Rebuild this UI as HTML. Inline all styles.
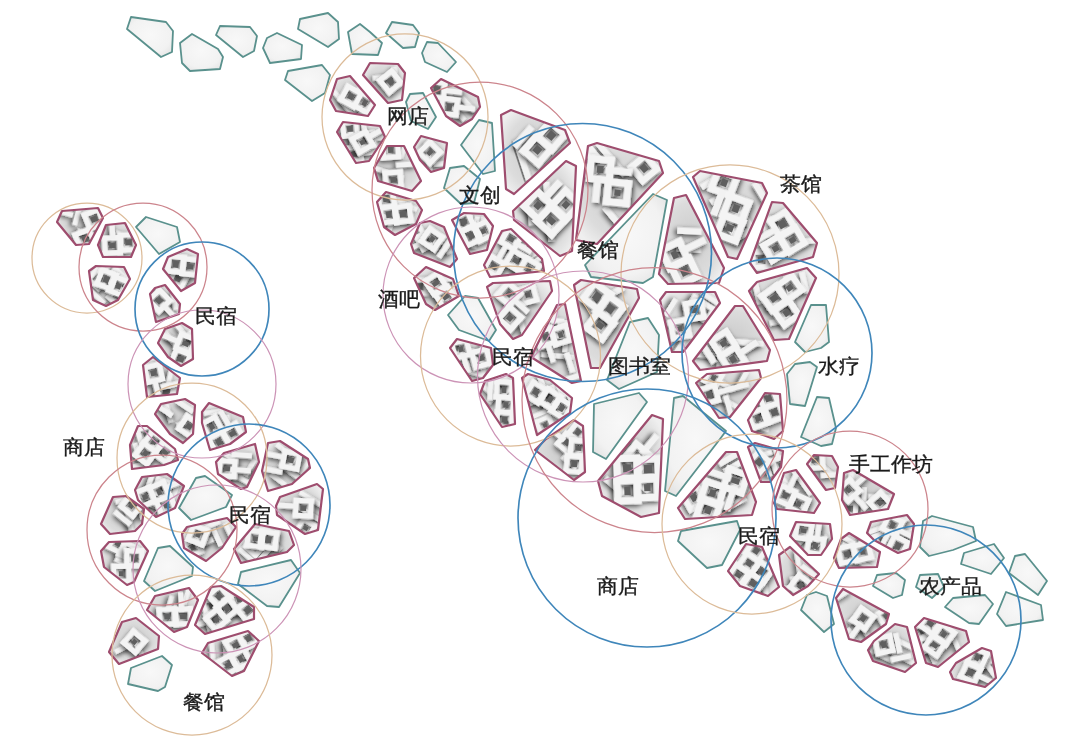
<!DOCTYPE html>
<html><head><meta charset="utf-8"><style>
html,body{margin:0;padding:0;background:#fff;}
#w{position:relative;width:1080px;height:746px;overflow:hidden;background:#fff;filter:blur(0.45px);}
svg{position:absolute;left:0;top:0;}
.l{position:absolute;font-family:"Liberation Sans",sans-serif;font-size:19.8px;line-height:20px;transform:scaleX(1.045);transform-origin:0 0;color:#1a1a1a;-webkit-text-stroke:0.35px #1a1a1a;white-space:nowrap;}
</style></head><body><div id="w">
<svg width="1080" height="746" viewBox="0 0 1080 746"><defs><radialGradient id="tg" cx="50%" cy="45%" r="65%"><stop offset="0" stop-color="#f8f8f8"/><stop offset="0.7" stop-color="#f2f2f2"/><stop offset="1" stop-color="#e4e4e4"/></radialGradient>
<radialGradient id="mg" cx="50%" cy="50%" r="60%"><stop offset="0" stop-color="#cbcbcb"/><stop offset="0.7" stop-color="#dcdcdc"/><stop offset="1" stop-color="#efefef"/></radialGradient><filter id="sh" x="-30%" y="-30%" width="160%" height="160%"><feDropShadow dx="1.8" dy="2.2" stdDeviation="2.8" flood-color="#000" flood-opacity="0.7"/></filter><clipPath id="c0"><polygon points="330,100 337,79 350,76 375,105 368,116 336,111"/></clipPath><clipPath id="c1"><polygon points="363,75 370,63 398,64 405,73 402,100 388,103"/></clipPath><clipPath id="c2"><polygon points="431,88 441,79 478,97 480,107 472,119 460,126 446,116"/></clipPath><clipPath id="c3"><polygon points="337,132 343,122 380,126 385,137 369,161 356,163"/></clipPath><clipPath id="c4"><polygon points="374,168 387,146 404,146 421,181 412,191 378,181"/></clipPath><clipPath id="c5"><polygon points="414,147 421,136 447,143 444,168 431,172 420,160"/></clipPath><clipPath id="c6"><polygon points="377,202 386,192 416,201 422,210 416,224 395,235 384,227"/></clipPath><clipPath id="c7"><polygon points="501,115 511,110 565,130 570,143 514,194 506,189"/></clipPath><clipPath id="c8"><polygon points="513,211 566,161 576,166 572,251 560,256 514,220"/></clipPath><clipPath id="c9"><polygon points="576,240 588,146 597,143 659,161 663,173 597,244"/></clipPath><clipPath id="c10"><polygon points="693,177 700,171 762,183 767,193 737,259 728,257"/></clipPath><clipPath id="c11"><polygon points="659,274 674,198 686,195 724,268 719,283 668,284"/></clipPath><clipPath id="c12"><polygon points="750,263 772,202 783,203 817,243 813,257 757,273"/></clipPath><clipPath id="c13"><polygon points="749,291 757,282 807,268 816,278 789,339 774,340"/></clipPath><clipPath id="c14"><polygon points="660,300 666,292 715,292 720,303 690,343 683,352 672,352"/></clipPath><clipPath id="c15"><polygon points="411,244 420,223 430,221 444,227 457,259 450,267 414,253"/></clipPath><clipPath id="c16"><polygon points="452,220 464,213 484,214 493,226 487,250 470,254"/></clipPath><clipPath id="c17"><polygon points="484,265 502,231 511,229 542,259 544,271 490,277"/></clipPath><clipPath id="c18"><polygon points="414,278 426,267 453,279 459,296 435,310 426,304"/></clipPath><clipPath id="c19"><polygon points="487,287 493,283 550,281 552,291 522,335 513,339 500,324"/></clipPath><clipPath id="c20"><polygon points="531,357 557,305 565,304 581,381 572,383"/></clipPath><clipPath id="c21"><polygon points="574,285 581,280 637,289 639,298 600,368 591,368"/></clipPath><clipPath id="c22"><polygon points="450,348 457,339 491,348 493,365 483,378 472,381"/></clipPath><clipPath id="c23"><polygon points="480,394 485,381 506,374 513,378 515,424 502,427"/></clipPath><clipPath id="c24"><polygon points="522,378 528,374 550,380 572,398 570,413 537,435"/></clipPath><clipPath id="c25"><polygon points="535,450 546,439 574,420 583,426 585,472 574,480"/></clipPath><clipPath id="c26"><polygon points="598,481 652,415 663,419 659,513 641,517 602,496"/></clipPath><clipPath id="c27"><polygon points="678,508 726,452 737,452 756,502 752,515 685,519"/></clipPath><clipPath id="c28"><polygon points="693,361 735,306 743,306 770,350 767,361 700,370"/></clipPath><clipPath id="c29"><polygon points="696,383 707,374 759,370 761,378 730,417 719,418"/></clipPath><clipPath id="c30"><polygon points="748,420 765,393 780,394 783,431 774,439 752,431"/></clipPath><clipPath id="c31"><polygon points="748,447 755,443 783,451 781,467 770,482 761,482"/></clipPath><clipPath id="c32"><polygon points="807,464 814,455 832,456 838,467 835,488 826,490"/></clipPath><clipPath id="c33"><polygon points="774,503 784,473 796,470 820,503 814,513 777,509"/></clipPath><clipPath id="c34"><polygon points="844,473 853,470 894,494 888,509 850,515 842,500"/></clipPath><clipPath id="c35"><polygon points="790,536 796,522 830,524 832,539 821,555 808,555"/></clipPath><clipPath id="c36"><polygon points="867,533 871,522 907,515 914,524 910,549 898,553 874,540"/></clipPath><clipPath id="c37"><polygon points="728,571 746,544 762,547 779,587 768,596 740,586"/></clipPath><clipPath id="c38"><polygon points="779,555 790,547 819,574 808,586 793,595 783,586"/></clipPath><clipPath id="c39"><polygon points="834,558 841,539 849,533 880,552 877,567 839,568"/></clipPath><clipPath id="c40"><polygon points="836,598 843,589 889,614 886,624 861,642 849,639"/></clipPath><clipPath id="c41"><polygon points="868,650 874,641 895,624 907,627 916,663 905,672 873,661"/></clipPath><clipPath id="c42"><polygon points="915,627 924,618 966,631 969,642 938,667 926,663"/></clipPath><clipPath id="c43"><polygon points="950,672 956,663 982,648 991,651 996,678 985,687 953,679"/></clipPath><clipPath id="c44"><polygon points="57,222 62,211 98,208 103,218 89,244 76,245"/></clipPath><clipPath id="c45"><polygon points="98,245 106,225 125,223 136,245 131,257 103,257"/></clipPath><clipPath id="c46"><polygon points="89,271 96,266 124,267 130,279 118,300 106,306 93,300"/></clipPath><clipPath id="c47"><polygon points="163,269 168,257 187,249 198,254 195,283 181,291"/></clipPath><clipPath id="c48"><polygon points="150,294 155,288 165,285 180,304 179,314 156,322"/></clipPath><clipPath id="c49"><polygon points="158,343 165,329 182,323 192,329 193,359 181,366 168,357"/></clipPath><clipPath id="c50"><polygon points="143,365 153,357 180,378 177,394 147,397"/></clipPath><clipPath id="c51"><polygon points="155,414 161,404 185,399 195,405 193,434 183,443 170,434"/></clipPath><clipPath id="c52"><polygon points="202,412 209,403 243,417 246,432 230,444 210,450 202,423"/></clipPath><clipPath id="c53"><polygon points="130,445 138,426 147,426 175,449 178,460 164,465 132,469"/></clipPath><clipPath id="c54"><polygon points="216,462 224,453 255,444 259,462 247,487 241,489 218,474"/></clipPath><clipPath id="c55"><polygon points="262,471 268,443 280,441 308,459 310,468 292,484 268,491"/></clipPath><clipPath id="c56"><polygon points="135,490 142,477 167,474 184,486 175,508 156,517 138,500"/></clipPath><clipPath id="c57"><polygon points="276,506 280,497 317,484 323,489 318,530 305,534 277,515"/></clipPath><clipPath id="c58"><polygon points="101,524 113,497 126,496 144,509 142,524 135,531 110,534"/></clipPath><clipPath id="c59"><polygon points="182,534 187,527 227,518 236,527 222,548 206,561 184,548"/></clipPath><clipPath id="c60"><polygon points="234,549 255,524 289,531 294,545 287,552 241,563"/></clipPath><clipPath id="c61"><polygon points="101,551 109,542 140,541 148,551 134,582 127,585 104,567"/></clipPath><clipPath id="c62"><polygon points="147,610 155,596 189,588 198,600 187,627 174,632"/></clipPath><clipPath id="c63"><polygon points="195,625 211,587 221,586 254,607 254,619 205,634"/></clipPath><clipPath id="c64"><polygon points="109,652 122,622 136,618 159,636 158,649 119,664"/></clipPath><clipPath id="c65"><polygon points="202,653 208,643 248,631 259,641 244,671 232,676"/></clipPath></defs>
<polygon points="127,29 131,17 166,22 173,31 172,52 161,57" fill="url(#tg)" stroke="#5a918d" stroke-width="1.8" stroke-linejoin="round"/>
<polygon points="180,43 192,34 218,49 223,57 220,69 190,71 182,63" fill="url(#tg)" stroke="#5a918d" stroke-width="1.8" stroke-linejoin="round"/>
<polygon points="216,35 220,26 250,27 257,36 254,51 243,57" fill="url(#tg)" stroke="#5a918d" stroke-width="1.8" stroke-linejoin="round"/>
<polygon points="263,48 267,38 277,33 302,45 301,59 270,63" fill="url(#tg)" stroke="#5a918d" stroke-width="1.8" stroke-linejoin="round"/>
<polygon points="298,29 300,19 328,13 338,22 339,39 328,47" fill="url(#tg)" stroke="#5a918d" stroke-width="1.8" stroke-linejoin="round"/>
<polygon points="285,80 288,71 322,65 330,75 325,93 312,101" fill="url(#tg)" stroke="#5a918d" stroke-width="1.8" stroke-linejoin="round"/>
<polygon points="348,32 360,24 370,32 382,43 378,55 352,54" fill="url(#tg)" stroke="#5a918d" stroke-width="1.8" stroke-linejoin="round"/>
<polygon points="386,33 392,22 413,25 419,33 415,47 403,48" fill="url(#tg)" stroke="#5a918d" stroke-width="1.8" stroke-linejoin="round"/>
<polygon points="422,53 427,42 438,43 456,62 447,72 425,62" fill="url(#tg)" stroke="#5a918d" stroke-width="1.8" stroke-linejoin="round"/>
<polygon points="406,102 410,94 423,93 436,117 428,129 411,121" fill="url(#tg)" stroke="#5a918d" stroke-width="1.8" stroke-linejoin="round"/>
<polygon points="461,145 479,120 492,123 495,171 483,174" fill="url(#tg)" stroke="#5a918d" stroke-width="1.8" stroke-linejoin="round"/>
<polygon points="444,188 450,168 464,166 480,179 474,203 461,204" fill="url(#tg)" stroke="#5a918d" stroke-width="1.8" stroke-linejoin="round"/>
<polygon points="585,265 653,194 667,200 653,277 643,283 591,277" fill="url(#tg)" stroke="#5a918d" stroke-width="1.8" stroke-linejoin="round"/>
<polygon points="448,315 465,296 478,298 496,330 489,341 459,330" fill="url(#tg)" stroke="#5a918d" stroke-width="1.8" stroke-linejoin="round"/>
<polygon points="607,380 630,322 648,318 659,335 657,372 619,389" fill="url(#tg)" stroke="#5a918d" stroke-width="1.8" stroke-linejoin="round"/>
<polygon points="593,452 594,404 639,393 647,402 606,459" fill="url(#tg)" stroke="#5a918d" stroke-width="1.8" stroke-linejoin="round"/>
<polygon points="665,491 674,398 683,396 726,431 720,439 676,496" fill="url(#tg)" stroke="#5a918d" stroke-width="1.8" stroke-linejoin="round"/>
<polygon points="795,342 811,305 826,305 829,342 821,348 805,352" fill="url(#tg)" stroke="#5a918d" stroke-width="1.8" stroke-linejoin="round"/>
<polygon points="787,374 795,364 810,362 817,367 805,406 790,404" fill="url(#tg)" stroke="#5a918d" stroke-width="1.8" stroke-linejoin="round"/>
<polygon points="801,437 817,397 829,398 836,428 832,444 821,446" fill="url(#tg)" stroke="#5a918d" stroke-width="1.8" stroke-linejoin="round"/>
<polygon points="678,541 681,531 737,521 740,530 722,565 707,568" fill="url(#tg)" stroke="#5a918d" stroke-width="1.8" stroke-linejoin="round"/>
<polygon points="801,610 807,595 816,592 827,596 834,624 824,632" fill="url(#tg)" stroke="#5a918d" stroke-width="1.8" stroke-linejoin="round"/>
<polygon points="873,586 877,575 896,573 905,580 902,595 893,598" fill="url(#tg)" stroke="#5a918d" stroke-width="1.8" stroke-linejoin="round"/>
<polygon points="916,587 920,575 938,574 944,587 932,598" fill="url(#tg)" stroke="#5a918d" stroke-width="1.8" stroke-linejoin="round"/>
<polygon points="920,547 923,521 932,516 973,527 976,541 953,550 929,556" fill="url(#tg)" stroke="#5a918d" stroke-width="1.8" stroke-linejoin="round"/>
<polygon points="961,564 964,553 994,544 1004,558 991,574" fill="url(#tg)" stroke="#5a918d" stroke-width="1.8" stroke-linejoin="round"/>
<polygon points="1009,573 1015,556 1025,554 1047,581 1038,595" fill="url(#tg)" stroke="#5a918d" stroke-width="1.8" stroke-linejoin="round"/>
<polygon points="945,607 953,598 985,595 993,604 979,624 969,623" fill="url(#tg)" stroke="#5a918d" stroke-width="1.8" stroke-linejoin="round"/>
<polygon points="997,614 1006,592 1041,605 1043,620 1006,626" fill="url(#tg)" stroke="#5a918d" stroke-width="1.8" stroke-linejoin="round"/>
<polygon points="136,227 146,217 177,227 180,242 159,254" fill="url(#tg)" stroke="#5a918d" stroke-width="1.8" stroke-linejoin="round"/>
<polygon points="179,508 196,478 205,476 232,495 226,507 191,520" fill="url(#tg)" stroke="#5a918d" stroke-width="1.8" stroke-linejoin="round"/>
<polygon points="144,581 158,548 170,546 193,567 192,576 155,591" fill="url(#tg)" stroke="#5a918d" stroke-width="1.8" stroke-linejoin="round"/>
<polygon points="238,584 241,572 291,560 300,573 279,607 267,606" fill="url(#tg)" stroke="#5a918d" stroke-width="1.8" stroke-linejoin="round"/>
<polygon points="128,684 131,668 162,656 172,665 165,687 158,691" fill="url(#tg)" stroke="#5a918d" stroke-width="1.8" stroke-linejoin="round"/>
<g clip-path="url(#c0)"><polygon points="330,100 337,79 350,76 375,105 368,116 336,111" fill="url(#mg)"/><g transform="translate(346.5,99.0) rotate(51.0)"><g filter="url(#sh)"><rect x="-1.9" y="2.5" width="18.4" height="4.9" fill="#f2f2f2"/><rect x="-2.2" y="-16.8" width="18.4" height="4.9" fill="#f4f4f4"/><rect x="-2.2" y="-3.3" width="18.4" height="4.9" fill="#f4f4f4"/><rect x="-2.2" y="-16.8" width="4.9" height="18.4" fill="#f4f4f4"/><rect x="11.3" y="-16.8" width="4.9" height="18.4" fill="#f4f4f4"/><rect x="18.3" y="-17.7" width="4.9" height="18.4" fill="#f2f2f2"/><rect x="-15.4" y="2.5" width="18.4" height="4.9" fill="#f2f2f2"/></g><rect x="4.9" y="-9.8" width="4.3" height="4.5" fill="#5f5f5f"/></g><g transform="translate(349.3,97.8) rotate(29.1)"><g filter="url(#sh)"><rect x="-9.4" y="-12.1" width="20.4" height="5.4" fill="#f4f4f4"/><rect x="-9.4" y="2.9" width="20.4" height="5.4" fill="#f4f4f4"/><rect x="-9.4" y="-12.1" width="5.4" height="20.4" fill="#f4f4f4"/><rect x="5.6" y="-12.1" width="5.4" height="20.4" fill="#f4f4f4"/><rect x="5.7" y="-13.3" width="20.4" height="5.4" fill="#f4f4f4"/><rect x="5.7" y="1.7" width="20.4" height="5.4" fill="#f4f4f4"/><rect x="5.7" y="-13.3" width="5.4" height="20.4" fill="#f4f4f4"/><rect x="20.7" y="-13.3" width="5.4" height="20.4" fill="#f4f4f4"/></g><rect x="-2.1" y="-4.9" width="5.8" height="6.0" fill="#5f5f5f"/><rect x="13.6" y="-6.1" width="4.7" height="6.1" fill="#5f5f5f"/></g></g>
<polygon points="330,100 337,79 350,76 375,105 368,116 336,111" fill="none" stroke="#9e4d6e" stroke-width="2.2" stroke-linejoin="round"/>
<g clip-path="url(#c1)"><polygon points="363,75 370,63 398,64 405,73 402,100 388,103" fill="url(#mg)"/><g transform="translate(388.6,79.6) rotate(84.1)"><g filter="url(#sh)"><rect x="-12.2" y="-9.6" width="18.4" height="4.9" fill="#f2f2f2"/><rect x="-5.4" y="-2.9" width="4.9" height="18.4" fill="#f2f2f2"/></g></g><g transform="translate(387.7,79.7) rotate(50.8)"><g filter="url(#sh)"><rect x="-6.9" y="-11.0" width="20.4" height="5.4" fill="#f4f4f4"/><rect x="-6.9" y="4.0" width="20.4" height="5.4" fill="#f4f4f4"/><rect x="-6.9" y="-11.0" width="5.4" height="20.4" fill="#f4f4f4"/><rect x="8.1" y="-11.0" width="5.4" height="20.4" fill="#f4f4f4"/></g><rect x="0.0" y="-3.5" width="6.6" height="5.4" fill="#5f5f5f"/></g></g>
<polygon points="363,75 370,63 398,64 405,73 402,100 388,103" fill="none" stroke="#9e4d6e" stroke-width="2.2" stroke-linejoin="round"/>
<g clip-path="url(#c2)"><polygon points="431,88 441,79 478,97 480,107 472,119 460,126 446,116" fill="url(#mg)"/><g transform="translate(458.8,106.9) rotate(47.4)"><g filter="url(#sh)"><rect x="-11.3" y="-4.5" width="4.9" height="18.4" fill="#f2f2f2"/><rect x="-31.0" y="-4.0" width="18.4" height="4.9" fill="#f4f4f4"/><rect x="-31.0" y="9.5" width="18.4" height="4.9" fill="#f4f4f4"/><rect x="-31.0" y="-4.0" width="4.9" height="18.4" fill="#f4f4f4"/><rect x="-17.5" y="-4.0" width="4.9" height="18.4" fill="#f4f4f4"/><rect x="-4.6" y="2.3" width="18.4" height="4.9" fill="#f2f2f2"/><rect x="-4.6" y="-11.2" width="18.4" height="4.9" fill="#f2f2f2"/></g><rect x="-24.8" y="2.3" width="6.1" height="5.7" fill="#5f5f5f"/></g><g transform="translate(458.3,104.6) rotate(7.0)"><g filter="url(#sh)"><rect x="-18.9" y="-7.0" width="20.4" height="5.4" fill="#f4f4f4"/><rect x="-18.9" y="8.0" width="20.4" height="5.4" fill="#f4f4f4"/><rect x="-18.9" y="-7.0" width="5.4" height="20.4" fill="#f4f4f4"/><rect x="-3.9" y="-7.0" width="5.4" height="20.4" fill="#f4f4f4"/><rect x="-3.3" y="-0.2" width="20.4" height="5.4" fill="#f2f2f2"/><rect x="-18.3" y="-15.2" width="20.4" height="5.4" fill="#f2f2f2"/><rect x="-33.5" y="-22.5" width="20.4" height="5.4" fill="#f4f4f4"/><rect x="-33.5" y="-7.5" width="20.4" height="5.4" fill="#f4f4f4"/><rect x="-33.5" y="-22.5" width="5.4" height="20.4" fill="#f4f4f4"/><rect x="-18.5" y="-22.5" width="5.4" height="20.4" fill="#f4f4f4"/></g><rect x="-11.4" y="-0.0" width="5.4" height="6.6" fill="#5f5f5f"/><rect x="-26.3" y="-15.7" width="6.1" height="6.7" fill="#5f5f5f"/></g></g>
<polygon points="431,88 441,79 478,97 480,107 472,119 460,126 446,116" fill="none" stroke="#9e4d6e" stroke-width="2.2" stroke-linejoin="round"/>
<g clip-path="url(#c3)"><polygon points="337,132 343,122 380,126 385,137 369,161 356,163" fill="url(#mg)"/><g transform="translate(360.7,138.0) rotate(83.5)"><g filter="url(#sh)"><rect x="6.1" y="-0.7" width="18.4" height="4.9" fill="#f4f4f4"/><rect x="6.1" y="12.8" width="18.4" height="4.9" fill="#f4f4f4"/><rect x="6.1" y="-0.7" width="4.9" height="18.4" fill="#f4f4f4"/><rect x="19.6" y="-0.7" width="4.9" height="18.4" fill="#f4f4f4"/><rect x="-0.4" y="-27.3" width="4.9" height="18.4" fill="#f2f2f2"/><rect x="13.1" y="-13.8" width="4.9" height="18.4" fill="#f2f2f2"/><rect x="-19.4" y="0.5" width="18.4" height="4.9" fill="#f4f4f4"/><rect x="-19.4" y="14.0" width="18.4" height="4.9" fill="#f4f4f4"/><rect x="-19.4" y="0.5" width="4.9" height="18.4" fill="#f4f4f4"/><rect x="-5.9" y="0.5" width="4.9" height="18.4" fill="#f4f4f4"/><rect x="-7.1" y="6.5" width="18.4" height="4.9" fill="#f2f2f2"/><rect x="-6.7" y="-15.1" width="18.4" height="4.9" fill="#f4f4f4"/><rect x="-6.7" y="-1.6" width="18.4" height="4.9" fill="#f4f4f4"/><rect x="-6.7" y="-15.1" width="4.9" height="18.4" fill="#f4f4f4"/><rect x="6.8" y="-15.1" width="4.9" height="18.4" fill="#f4f4f4"/><rect x="-20.6" y="-7.0" width="18.4" height="4.9" fill="#f2f2f2"/></g><rect x="12.7" y="5.5" width="5.2" height="6.0" fill="#5f5f5f"/><rect x="-13.2" y="6.9" width="5.8" height="5.7" fill="#5f5f5f"/><rect x="0.4" y="-8.2" width="4.2" height="4.5" fill="#5f5f5f"/></g><g transform="translate(361.7,140.2) rotate(61.4)"><g filter="url(#sh)"><rect x="-8.1" y="-9.9" width="20.4" height="5.4" fill="#f4f4f4"/><rect x="-8.1" y="5.1" width="20.4" height="5.4" fill="#f4f4f4"/><rect x="-8.1" y="-9.9" width="5.4" height="20.4" fill="#f4f4f4"/><rect x="6.9" y="-9.9" width="5.4" height="20.4" fill="#f4f4f4"/><rect x="-1.9" y="-25.2" width="5.4" height="20.4" fill="#f2f2f2"/></g><rect x="-0.2" y="-2.1" width="4.7" height="5.0" fill="#5f5f5f"/></g></g>
<polygon points="337,132 343,122 380,126 385,137 369,161 356,163" fill="none" stroke="#9e4d6e" stroke-width="2.2" stroke-linejoin="round"/>
<g clip-path="url(#c4)"><polygon points="374,168 387,146 404,146 421,181 412,191 378,181" fill="url(#mg)"/><g transform="translate(396.8,168.6) rotate(108.9)"><g filter="url(#sh)"><rect x="4.2" y="-9.5" width="4.9" height="18.4" fill="#f2f2f2"/><rect x="-29.6" y="-2.7" width="18.4" height="4.9" fill="#f2f2f2"/><rect x="4.2" y="4.0" width="4.9" height="18.4" fill="#f2f2f2"/></g></g><g transform="translate(396.0,168.8) rotate(86.0)"><g filter="url(#sh)"><rect x="0.7" y="-6.6" width="20.4" height="5.4" fill="#f4f4f4"/><rect x="0.7" y="8.4" width="20.4" height="5.4" fill="#f4f4f4"/><rect x="0.7" y="-6.6" width="5.4" height="20.4" fill="#f4f4f4"/><rect x="15.7" y="-6.6" width="5.4" height="20.4" fill="#f4f4f4"/><rect x="-6.3" y="-20.7" width="5.4" height="20.4" fill="#f2f2f2"/><rect x="-29.6" y="-6.0" width="20.4" height="5.4" fill="#f4f4f4"/><rect x="-29.6" y="9.0" width="20.4" height="5.4" fill="#f4f4f4"/><rect x="-29.6" y="-6.0" width="5.4" height="20.4" fill="#f4f4f4"/><rect x="-14.6" y="-6.0" width="5.4" height="20.4" fill="#f4f4f4"/></g><rect x="8.1" y="0.8" width="5.7" height="5.6" fill="#5f5f5f"/><rect x="-22.6" y="1.7" width="6.3" height="4.9" fill="#5f5f5f"/></g></g>
<polygon points="374,168 387,146 404,146 421,181 412,191 378,181" fill="none" stroke="#9e4d6e" stroke-width="2.2" stroke-linejoin="round"/>
<g clip-path="url(#c5)"><polygon points="414,147 421,136 447,143 444,168 431,172 420,160" fill="url(#mg)"/><g transform="translate(431.3,158.3) rotate(84.1)"><g filter="url(#sh)"><rect x="-2.8" y="0.2" width="18.4" height="4.9" fill="#f2f2f2"/><rect x="-16.3" y="0.2" width="18.4" height="4.9" fill="#f2f2f2"/><rect x="3.9" y="-20.1" width="4.9" height="18.4" fill="#f2f2f2"/></g></g><g transform="translate(429.5,154.3) rotate(44.4)"><g filter="url(#sh)"><rect x="-11.2" y="-11.7" width="20.4" height="5.4" fill="#f4f4f4"/><rect x="-11.2" y="3.3" width="20.4" height="5.4" fill="#f4f4f4"/><rect x="-11.2" y="-11.7" width="5.4" height="20.4" fill="#f4f4f4"/><rect x="3.8" y="-11.7" width="5.4" height="20.4" fill="#f4f4f4"/></g><rect x="-3.4" y="-4.5" width="4.7" height="6.0" fill="#5f5f5f"/></g></g>
<polygon points="414,147 421,136 447,143 444,168 431,172 420,160" fill="none" stroke="#9e4d6e" stroke-width="2.2" stroke-linejoin="round"/>
<g clip-path="url(#c6)"><polygon points="377,202 386,192 416,201 422,210 416,224 395,235 384,227" fill="url(#mg)"/><g transform="translate(401.7,215.0) rotate(113.8)"><g filter="url(#sh)"><rect x="5.7" y="3.0" width="18.4" height="4.9" fill="#f4f4f4"/><rect x="5.7" y="16.5" width="18.4" height="4.9" fill="#f4f4f4"/><rect x="5.7" y="3.0" width="4.9" height="18.4" fill="#f4f4f4"/><rect x="19.2" y="3.0" width="4.9" height="18.4" fill="#f4f4f4"/><rect x="-13.5" y="1.5" width="4.9" height="18.4" fill="#f2f2f2"/><rect x="-0.0" y="1.5" width="4.9" height="18.4" fill="#f2f2f2"/><rect x="-13.5" y="-12.0" width="4.9" height="18.4" fill="#f2f2f2"/><rect x="-0.0" y="-12.0" width="4.9" height="18.4" fill="#f2f2f2"/></g><rect x="12.8" y="9.5" width="4.1" height="5.2" fill="#5f5f5f"/></g><g transform="translate(399.4,213.0) rotate(81.9)"><g filter="url(#sh)"><rect x="-8.6" y="-13.4" width="20.4" height="5.4" fill="#f4f4f4"/><rect x="-8.6" y="1.6" width="20.4" height="5.4" fill="#f4f4f4"/><rect x="-8.6" y="-13.4" width="5.4" height="20.4" fill="#f4f4f4"/><rect x="6.4" y="-13.4" width="5.4" height="20.4" fill="#f4f4f4"/><rect x="-25.6" y="1.2" width="20.4" height="5.4" fill="#f4f4f4"/><rect x="-25.6" y="16.2" width="20.4" height="5.4" fill="#f4f4f4"/><rect x="-25.6" y="1.2" width="5.4" height="20.4" fill="#f4f4f4"/><rect x="-10.6" y="1.2" width="5.4" height="20.4" fill="#f4f4f4"/><rect x="-10.1" y="0.7" width="20.4" height="5.4" fill="#f4f4f4"/><rect x="-10.1" y="15.7" width="20.4" height="5.4" fill="#f4f4f4"/><rect x="-10.1" y="0.7" width="5.4" height="20.4" fill="#f4f4f4"/><rect x="4.9" y="0.7" width="5.4" height="20.4" fill="#f4f4f4"/></g><rect x="-1.6" y="-6.4" width="6.5" height="6.4" fill="#5f5f5f"/><rect x="-17.9" y="8.5" width="5.0" height="5.8" fill="#5f5f5f"/><rect x="-3.2" y="8.2" width="6.5" height="5.3" fill="#5f5f5f"/></g></g>
<polygon points="377,202 386,192 416,201 422,210 416,224 395,235 384,227" fill="none" stroke="#9e4d6e" stroke-width="2.2" stroke-linejoin="round"/>
<g clip-path="url(#c7)"><polygon points="501,115 511,110 565,130 570,143 514,194 506,189" fill="url(#mg)"/><g transform="translate(528.5,150.1) rotate(71.8)"><g filter="url(#sh)"><rect x="-13.4" y="5.7" width="23.9" height="6.3" fill="#f2f2f2"/><rect x="4.2" y="5.7" width="23.9" height="6.3" fill="#f2f2f2"/></g></g><g transform="translate(527.8,146.8) rotate(41.2)"><g filter="url(#sh)"><rect x="-3.0" y="-37.2" width="26.6" height="7.0" fill="#f4f4f4"/><rect x="-3.0" y="-17.6" width="26.6" height="7.0" fill="#f4f4f4"/><rect x="-3.0" y="-37.2" width="7.0" height="26.6" fill="#f4f4f4"/><rect x="16.5" y="-37.2" width="7.0" height="26.6" fill="#f4f4f4"/><rect x="-4.0" y="-17.3" width="26.6" height="7.0" fill="#f4f4f4"/><rect x="-4.0" y="2.2" width="26.6" height="7.0" fill="#f4f4f4"/><rect x="-4.0" y="-17.3" width="7.0" height="26.6" fill="#f4f4f4"/><rect x="15.5" y="-17.3" width="7.0" height="26.6" fill="#f4f4f4"/><rect x="-13.6" y="-17.7" width="7.0" height="26.6" fill="#f2f2f2"/></g><rect x="6.5" y="-27.9" width="7.5" height="8.1" fill="#5f5f5f"/><rect x="5.6" y="-7.7" width="7.3" height="7.4" fill="#5f5f5f"/></g></g>
<polygon points="501,115 511,110 565,130 570,143 514,194 506,189" fill="none" stroke="#9e4d6e" stroke-width="2.2" stroke-linejoin="round"/>
<g clip-path="url(#c8)"><polygon points="513,211 566,161 576,166 572,251 560,256 514,220" fill="url(#mg)"/><g transform="translate(553.7,212.4) rotate(84.9)"><g filter="url(#sh)"><rect x="-31.0" y="1.4" width="24.3" height="6.4" fill="#f2f2f2"/><rect x="4.7" y="1.4" width="24.3" height="6.4" fill="#f2f2f2"/><rect x="-13.2" y="19.3" width="24.3" height="6.4" fill="#f2f2f2"/></g></g><g transform="translate(550.2,210.8) rotate(43.0)"><g filter="url(#sh)"><rect x="-6.3" y="-7.0" width="27.0" height="7.1" fill="#f4f4f4"/><rect x="-6.3" y="12.8" width="27.0" height="7.1" fill="#f4f4f4"/><rect x="-6.3" y="-7.0" width="7.1" height="27.0" fill="#f4f4f4"/><rect x="13.6" y="-7.0" width="7.1" height="27.0" fill="#f4f4f4"/><rect x="-26.0" y="-9.0" width="27.0" height="7.1" fill="#f4f4f4"/><rect x="-26.0" y="10.9" width="27.0" height="7.1" fill="#f4f4f4"/><rect x="-26.0" y="-9.0" width="7.1" height="27.0" fill="#f4f4f4"/><rect x="-6.2" y="-9.0" width="7.1" height="27.0" fill="#f4f4f4"/><rect x="-6.1" y="-28.5" width="27.0" height="7.1" fill="#f4f4f4"/><rect x="-6.1" y="-8.7" width="27.0" height="7.1" fill="#f4f4f4"/><rect x="-6.1" y="-28.5" width="7.1" height="27.0" fill="#f4f4f4"/><rect x="13.8" y="-28.5" width="7.1" height="27.0" fill="#f4f4f4"/><rect x="-16.2" y="-28.3" width="7.1" height="27.0" fill="#f2f2f2"/></g><rect x="3.0" y="3.3" width="8.4" height="6.4" fill="#5f5f5f"/><rect x="-15.8" y="1.1" width="6.5" height="6.9" fill="#5f5f5f"/><rect x="4.4" y="-18.5" width="6.0" height="6.9" fill="#5f5f5f"/></g></g>
<polygon points="513,211 566,161 576,166 572,251 560,256 514,220" fill="none" stroke="#9e4d6e" stroke-width="2.2" stroke-linejoin="round"/>
<g clip-path="url(#c9)"><polygon points="576,240 588,146 597,143 659,161 663,173 597,244" fill="url(#mg)"/><g transform="translate(617.2,186.8) rotate(50.1)"><g filter="url(#sh)"><rect x="-47.7" y="-6.9" width="24.5" height="6.5" fill="#f4f4f4"/><rect x="-47.7" y="11.1" width="24.5" height="6.5" fill="#f4f4f4"/><rect x="-47.7" y="-6.9" width="6.5" height="24.5" fill="#f4f4f4"/><rect x="-29.7" y="-6.9" width="6.5" height="24.5" fill="#f4f4f4"/><rect x="-9.3" y="-44.8" width="24.5" height="6.5" fill="#f4f4f4"/><rect x="-9.3" y="-26.8" width="24.5" height="6.5" fill="#f4f4f4"/><rect x="-9.3" y="-44.8" width="6.5" height="24.5" fill="#f4f4f4"/><rect x="8.7" y="-44.8" width="6.5" height="24.5" fill="#f4f4f4"/><rect x="-1.4" y="-7.5" width="6.5" height="24.5" fill="#f2f2f2"/><rect x="7.6" y="19.5" width="24.5" height="6.5" fill="#f2f2f2"/><rect x="-28.4" y="-16.5" width="24.5" height="6.5" fill="#f2f2f2"/><rect x="-46.4" y="-16.5" width="24.5" height="6.5" fill="#f2f2f2"/></g><rect x="-38.7" y="2.5" width="6.5" height="5.6" fill="#5f5f5f"/><rect x="-0.9" y="-35.8" width="7.7" height="6.6" fill="#5f5f5f"/></g><g transform="translate(613.3,184.5) rotate(5.8)"><g filter="url(#sh)"><rect x="-8.7" y="-5.9" width="27.2" height="7.2" fill="#f4f4f4"/><rect x="-8.7" y="14.1" width="27.2" height="7.2" fill="#f4f4f4"/><rect x="-8.7" y="-5.9" width="7.2" height="27.2" fill="#f4f4f4"/><rect x="11.3" y="-5.9" width="7.2" height="27.2" fill="#f4f4f4"/><rect x="-28.1" y="-27.3" width="27.2" height="7.2" fill="#f4f4f4"/><rect x="-28.1" y="-7.3" width="27.2" height="7.2" fill="#f4f4f4"/><rect x="-28.1" y="-27.3" width="7.2" height="27.2" fill="#f4f4f4"/><rect x="-8.1" y="-27.3" width="7.2" height="27.2" fill="#f4f4f4"/><rect x="-19.6" y="-7.4" width="7.2" height="27.2" fill="#f2f2f2"/><rect x="-9.6" y="-17.4" width="27.2" height="7.2" fill="#f2f2f2"/></g><rect x="1.9" y="4.7" width="6.1" height="6.1" fill="#5f5f5f"/><rect x="-17.9" y="-17.4" width="6.7" height="7.3" fill="#5f5f5f"/></g></g>
<polygon points="576,240 588,146 597,143 659,161 663,173 597,244" fill="none" stroke="#9e4d6e" stroke-width="2.2" stroke-linejoin="round"/>
<g clip-path="url(#c10)"><polygon points="693,177 700,171 762,183 767,193 737,259 728,257" fill="url(#mg)"/><g transform="translate(728.8,209.7) rotate(58.9)"><g filter="url(#sh)"><rect x="-9.7" y="-39.2" width="24.4" height="6.4" fill="#f2f2f2"/><rect x="-18.6" y="-12.4" width="6.4" height="24.4" fill="#f2f2f2"/><rect x="7.3" y="-13.1" width="24.4" height="6.4" fill="#f4f4f4"/><rect x="7.3" y="4.8" width="24.4" height="6.4" fill="#f4f4f4"/><rect x="7.3" y="-13.1" width="6.4" height="24.4" fill="#f4f4f4"/><rect x="25.2" y="-13.1" width="6.4" height="24.4" fill="#f4f4f4"/><rect x="-36.5" y="-12.4" width="6.4" height="24.4" fill="#f2f2f2"/></g><rect x="16.8" y="-4.1" width="5.4" height="6.4" fill="#5f5f5f"/></g><g transform="translate(731.2,206.7) rotate(20.7)"><g filter="url(#sh)"><rect x="-7.4" y="7.0" width="27.1" height="7.2" fill="#f4f4f4"/><rect x="-7.4" y="26.9" width="27.1" height="7.2" fill="#f4f4f4"/><rect x="-7.4" y="7.0" width="7.2" height="27.1" fill="#f4f4f4"/><rect x="12.5" y="7.0" width="7.2" height="27.1" fill="#f4f4f4"/><rect x="-28.5" y="-33.5" width="27.1" height="7.2" fill="#f4f4f4"/><rect x="-28.5" y="-13.6" width="27.1" height="7.2" fill="#f4f4f4"/><rect x="-28.5" y="-33.5" width="7.2" height="27.1" fill="#f4f4f4"/><rect x="-8.6" y="-33.5" width="7.2" height="27.1" fill="#f4f4f4"/><rect x="-8.5" y="-13.4" width="27.1" height="7.2" fill="#f4f4f4"/><rect x="-8.5" y="6.5" width="27.1" height="7.2" fill="#f4f4f4"/><rect x="-8.5" y="-13.4" width="7.2" height="27.1" fill="#f4f4f4"/><rect x="11.4" y="-13.4" width="7.2" height="27.1" fill="#f4f4f4"/><rect x="-17.0" y="-12.8" width="7.2" height="27.1" fill="#f2f2f2"/></g><rect x="2.3" y="17.2" width="7.5" height="6.6" fill="#5f5f5f"/><rect x="-18.1" y="-23.5" width="6.2" height="7.2" fill="#5f5f5f"/><rect x="1.7" y="-3.8" width="6.7" height="7.7" fill="#5f5f5f"/></g></g>
<polygon points="693,177 700,171 762,183 767,193 737,259 728,257" fill="none" stroke="#9e4d6e" stroke-width="2.2" stroke-linejoin="round"/>
<g clip-path="url(#c11)"><polygon points="659,274 674,198 686,195 724,268 719,283 668,284" fill="url(#mg)"/><g transform="translate(691.4,249.4) rotate(92.6)"><g filter="url(#sh)"><rect x="-3.5" y="-9.5" width="6.5" height="24.5" fill="#f2f2f2"/><rect x="-21.5" y="-9.5" width="6.5" height="24.5" fill="#f2f2f2"/></g></g><g transform="translate(688.3,250.3) rotate(64.4)"><g filter="url(#sh)"><rect x="3.8" y="-1.1" width="27.2" height="7.2" fill="#f4f4f4"/><rect x="3.8" y="18.9" width="27.2" height="7.2" fill="#f4f4f4"/><rect x="3.8" y="-1.1" width="7.2" height="27.2" fill="#f4f4f4"/><rect x="23.8" y="-1.1" width="7.2" height="27.2" fill="#f4f4f4"/><rect x="-15.4" y="0.6" width="27.2" height="7.2" fill="#f4f4f4"/><rect x="-15.4" y="20.6" width="27.2" height="7.2" fill="#f4f4f4"/><rect x="-15.4" y="0.6" width="7.2" height="27.2" fill="#f4f4f4"/><rect x="4.6" y="0.6" width="7.2" height="27.2" fill="#f4f4f4"/><rect x="-5.7" y="-19.9" width="7.2" height="27.2" fill="#f2f2f2"/></g><rect x="13.2" y="8.6" width="8.5" height="7.7" fill="#5f5f5f"/><rect x="-5.5" y="11.2" width="7.5" height="6.0" fill="#5f5f5f"/></g></g>
<polygon points="659,274 674,198 686,195 724,268 719,283 668,284" fill="none" stroke="#9e4d6e" stroke-width="2.2" stroke-linejoin="round"/>
<g clip-path="url(#c12)"><polygon points="750,263 772,202 783,203 817,243 813,257 757,273" fill="url(#mg)"/><g transform="translate(778.5,242.1) rotate(85.6)"><g filter="url(#sh)"><rect x="-1.7" y="-38.3" width="5.7" height="21.6" fill="#f2f2f2"/><rect x="5.2" y="8.5" width="21.6" height="5.7" fill="#f4f4f4"/><rect x="5.2" y="24.4" width="21.6" height="5.7" fill="#f4f4f4"/><rect x="5.2" y="8.5" width="5.7" height="21.6" fill="#f4f4f4"/><rect x="21.0" y="8.5" width="5.7" height="21.6" fill="#f4f4f4"/><rect x="-26.8" y="-7.3" width="21.6" height="5.7" fill="#f4f4f4"/><rect x="-26.8" y="8.6" width="21.6" height="5.7" fill="#f4f4f4"/><rect x="-26.8" y="-7.3" width="5.7" height="21.6" fill="#f4f4f4"/><rect x="-10.9" y="-7.3" width="5.7" height="21.6" fill="#f4f4f4"/></g><rect x="12.7" y="16.6" width="6.5" height="5.5" fill="#5f5f5f"/><rect x="-19.2" y="0.3" width="6.4" height="6.4" fill="#5f5f5f"/></g><g transform="translate(782.0,240.2) rotate(59.3)"><g filter="url(#sh)"><rect x="-6.7" y="-21.1" width="24.0" height="6.3" fill="#f4f4f4"/><rect x="-6.7" y="-3.4" width="24.0" height="6.3" fill="#f4f4f4"/><rect x="-6.7" y="-21.1" width="6.3" height="24.0" fill="#f4f4f4"/><rect x="10.9" y="-21.1" width="6.3" height="24.0" fill="#f4f4f4"/><rect x="-25.7" y="-20.5" width="24.0" height="6.3" fill="#f4f4f4"/><rect x="-25.7" y="-2.9" width="24.0" height="6.3" fill="#f4f4f4"/><rect x="-25.7" y="-20.5" width="6.3" height="24.0" fill="#f4f4f4"/><rect x="-8.1" y="-20.5" width="6.3" height="24.0" fill="#f4f4f4"/><rect x="-15.7" y="-2.9" width="6.3" height="24.0" fill="#f2f2f2"/><rect x="-8.1" y="-2.1" width="24.0" height="6.3" fill="#f4f4f4"/><rect x="-8.1" y="15.5" width="24.0" height="6.3" fill="#f4f4f4"/><rect x="-8.1" y="-2.1" width="6.3" height="24.0" fill="#f4f4f4"/><rect x="9.5" y="-2.1" width="6.3" height="24.0" fill="#f4f4f4"/></g><rect x="2.5" y="-12.3" width="5.5" height="6.5" fill="#5f5f5f"/><rect x="-17.7" y="-12.4" width="7.9" height="7.9" fill="#5f5f5f"/><rect x="0.9" y="6.7" width="6.0" height="6.2" fill="#5f5f5f"/></g></g>
<polygon points="750,263 772,202 783,203 817,243 813,257 757,273" fill="none" stroke="#9e4d6e" stroke-width="2.2" stroke-linejoin="round"/>
<g clip-path="url(#c13)"><polygon points="749,291 757,282 807,268 816,278 789,339 774,340" fill="url(#mg)"/><g transform="translate(783.1,297.9) rotate(77.1)"><g filter="url(#sh)"><rect x="2.9" y="-2.9" width="5.7" height="21.6" fill="#f2f2f2"/><rect x="-5.0" y="-10.8" width="21.6" height="5.7" fill="#f2f2f2"/><rect x="-20.9" y="-10.8" width="21.6" height="5.7" fill="#f2f2f2"/><rect x="-20.9" y="-26.8" width="21.6" height="5.7" fill="#f2f2f2"/><rect x="18.8" y="-2.9" width="5.7" height="21.6" fill="#f2f2f2"/><rect x="-20.9" y="21.0" width="21.6" height="5.7" fill="#f2f2f2"/></g></g><g transform="translate(782.0,299.7) rotate(54.3)"><g filter="url(#sh)"><rect x="1.3" y="-8.0" width="24.0" height="6.4" fill="#f4f4f4"/><rect x="1.3" y="9.7" width="24.0" height="6.4" fill="#f4f4f4"/><rect x="1.3" y="-8.0" width="6.4" height="24.0" fill="#f4f4f4"/><rect x="19.0" y="-8.0" width="6.4" height="24.0" fill="#f4f4f4"/><rect x="-17.8" y="-6.5" width="24.0" height="6.4" fill="#f4f4f4"/><rect x="-17.8" y="11.1" width="24.0" height="6.4" fill="#f4f4f4"/><rect x="-17.8" y="-6.5" width="6.4" height="24.0" fill="#f4f4f4"/><rect x="-0.1" y="-6.5" width="6.4" height="24.0" fill="#f4f4f4"/><rect x="-17.3" y="-25.2" width="24.0" height="6.4" fill="#f4f4f4"/><rect x="-17.3" y="-7.5" width="24.0" height="6.4" fill="#f4f4f4"/><rect x="-17.3" y="-25.2" width="6.4" height="24.0" fill="#f4f4f4"/><rect x="0.4" y="-25.2" width="6.4" height="24.0" fill="#f4f4f4"/></g><rect x="10.1" y="1.0" width="6.4" height="6.0" fill="#5f5f5f"/><rect x="-8.8" y="1.6" width="6.1" height="7.8" fill="#5f5f5f"/><rect x="-8.2" y="-16.3" width="5.8" height="6.3" fill="#5f5f5f"/></g></g>
<polygon points="749,291 757,282 807,268 816,278 789,339 774,340" fill="none" stroke="#9e4d6e" stroke-width="2.2" stroke-linejoin="round"/>
<g clip-path="url(#c14)"><polygon points="660,300 666,292 715,292 720,303 690,343 683,352 672,352" fill="url(#mg)"/><g transform="translate(689.1,320.2) rotate(122.4)"><g filter="url(#sh)"><rect x="11.0" y="-1.9" width="5.2" height="19.7" fill="#f2f2f2"/><rect x="-25.2" y="5.4" width="19.7" height="5.2" fill="#f2f2f2"/><rect x="18.3" y="-9.1" width="19.7" height="5.2" fill="#f2f2f2"/><rect x="-10.7" y="19.8" width="19.7" height="5.2" fill="#f2f2f2"/><rect x="-32.5" y="-16.4" width="5.2" height="19.7" fill="#f2f2f2"/><rect x="-24.8" y="-17.7" width="19.7" height="5.2" fill="#f4f4f4"/><rect x="-24.8" y="-3.2" width="19.7" height="5.2" fill="#f4f4f4"/><rect x="-24.8" y="-17.7" width="5.2" height="19.7" fill="#f4f4f4"/><rect x="-10.3" y="-17.7" width="5.2" height="19.7" fill="#f4f4f4"/></g><rect x="-17.6" y="-10.9" width="5.4" height="6.1" fill="#5f5f5f"/></g><g transform="translate(686.6,319.1) rotate(79.6)"><g filter="url(#sh)"><rect x="-18.1" y="-20.5" width="21.9" height="5.8" fill="#f4f4f4"/><rect x="-18.1" y="-4.4" width="21.9" height="5.8" fill="#f4f4f4"/><rect x="-18.1" y="-20.5" width="5.8" height="21.9" fill="#f4f4f4"/><rect x="-1.9" y="-20.5" width="5.8" height="21.9" fill="#f4f4f4"/><rect x="-2.5" y="-2.7" width="21.9" height="5.8" fill="#f4f4f4"/><rect x="-2.5" y="13.4" width="21.9" height="5.8" fill="#f4f4f4"/><rect x="-2.5" y="-2.7" width="5.8" height="21.9" fill="#f4f4f4"/><rect x="13.6" y="-2.7" width="5.8" height="21.9" fill="#f4f4f4"/></g><rect x="-9.7" y="-12.7" width="5.3" height="6.2" fill="#5f5f5f"/><rect x="5.8" y="5.8" width="5.3" height="4.9" fill="#5f5f5f"/></g></g>
<polygon points="660,300 666,292 715,292 720,303 690,343 683,352 672,352" fill="none" stroke="#9e4d6e" stroke-width="2.2" stroke-linejoin="round"/>
<g clip-path="url(#c15)"><polygon points="411,244 420,223 430,221 444,227 457,259 450,267 414,253" fill="url(#mg)"/><g transform="translate(434.3,239.7) rotate(61.2)"><g filter="url(#sh)"><rect x="-5.8" y="11.0" width="4.9" height="18.4" fill="#f2f2f2"/><rect x="-26.0" y="4.3" width="18.4" height="4.9" fill="#f2f2f2"/><rect x="-12.8" y="-1.7" width="18.4" height="4.9" fill="#f4f4f4"/><rect x="-12.8" y="11.8" width="18.4" height="4.9" fill="#f4f4f4"/><rect x="-12.8" y="-1.7" width="4.9" height="18.4" fill="#f4f4f4"/><rect x="0.7" y="-1.7" width="4.9" height="18.4" fill="#f4f4f4"/><rect x="1.0" y="-9.2" width="18.4" height="4.9" fill="#f2f2f2"/></g><rect x="-6.4" y="4.5" width="5.7" height="6.0" fill="#5f5f5f"/></g><g transform="translate(432.3,242.0) rotate(34.5)"><g filter="url(#sh)"><rect x="-12.0" y="-12.5" width="20.4" height="5.4" fill="#f4f4f4"/><rect x="-12.0" y="2.5" width="20.4" height="5.4" fill="#f4f4f4"/><rect x="-12.0" y="-12.5" width="5.4" height="20.4" fill="#f4f4f4"/><rect x="3.0" y="-12.5" width="5.4" height="20.4" fill="#f4f4f4"/><rect x="11.3" y="-11.3" width="5.4" height="20.4" fill="#f2f2f2"/></g><rect x="-4.2" y="-5.1" width="4.8" height="5.7" fill="#5f5f5f"/></g></g>
<polygon points="411,244 420,223 430,221 444,227 457,259 450,267 414,253" fill="none" stroke="#9e4d6e" stroke-width="2.2" stroke-linejoin="round"/>
<g clip-path="url(#c16)"><polygon points="452,220 464,213 484,214 493,226 487,250 470,254" fill="url(#mg)"/><g transform="translate(476.2,231.6) rotate(96.4)"><g filter="url(#sh)"><rect x="-1.7" y="-1.9" width="18.4" height="4.9" fill="#f2f2f2"/><rect x="-16.0" y="5.3" width="18.4" height="4.9" fill="#f4f4f4"/><rect x="-16.0" y="18.8" width="18.4" height="4.9" fill="#f4f4f4"/><rect x="-16.0" y="5.3" width="4.9" height="18.4" fill="#f4f4f4"/><rect x="-2.5" y="5.3" width="4.9" height="18.4" fill="#f4f4f4"/><rect x="-15.2" y="-21.9" width="18.4" height="4.9" fill="#f4f4f4"/><rect x="-15.2" y="-8.4" width="18.4" height="4.9" fill="#f4f4f4"/><rect x="-15.2" y="-21.9" width="4.9" height="18.4" fill="#f4f4f4"/><rect x="-1.7" y="-21.9" width="4.9" height="18.4" fill="#f4f4f4"/><rect x="-15.2" y="-1.9" width="18.4" height="4.9" fill="#f2f2f2"/></g><rect x="-9.5" y="12.3" width="5.5" height="4.3" fill="#5f5f5f"/><rect x="-8.4" y="-15.0" width="4.8" height="4.5" fill="#5f5f5f"/></g><g transform="translate(475.0,229.5) rotate(65.0)"><g filter="url(#sh)"><rect x="-6.5" y="-4.0" width="20.4" height="5.4" fill="#f4f4f4"/><rect x="-6.5" y="11.0" width="20.4" height="5.4" fill="#f4f4f4"/><rect x="-6.5" y="-4.0" width="5.4" height="20.4" fill="#f4f4f4"/><rect x="8.5" y="-4.0" width="5.4" height="20.4" fill="#f4f4f4"/><rect x="-22.1" y="-3.3" width="20.4" height="5.4" fill="#f4f4f4"/><rect x="-22.1" y="11.7" width="20.4" height="5.4" fill="#f4f4f4"/><rect x="-22.1" y="-3.3" width="5.4" height="20.4" fill="#f4f4f4"/><rect x="-7.1" y="-3.3" width="5.4" height="20.4" fill="#f4f4f4"/><rect x="-5.2" y="-17.0" width="20.4" height="5.4" fill="#f4f4f4"/><rect x="-5.2" y="-2.0" width="20.4" height="5.4" fill="#f4f4f4"/><rect x="-5.2" y="-17.0" width="5.4" height="20.4" fill="#f4f4f4"/><rect x="9.8" y="-17.0" width="5.4" height="20.4" fill="#f4f4f4"/></g><rect x="0.4" y="3.1" width="6.7" height="6.1" fill="#5f5f5f"/><rect x="-14.9" y="4.2" width="6.0" height="5.4" fill="#5f5f5f"/><rect x="2.5" y="-9.1" width="5.0" height="4.6" fill="#5f5f5f"/></g></g>
<polygon points="452,220 464,213 484,214 493,226 487,250 470,254" fill="none" stroke="#9e4d6e" stroke-width="2.2" stroke-linejoin="round"/>
<g clip-path="url(#c17)"><polygon points="484,265 502,231 511,229 542,259 544,271 490,277" fill="url(#mg)"/><g transform="translate(511.5,256.8) rotate(55.4)"><g filter="url(#sh)"><rect x="-5.2" y="0.8" width="4.9" height="18.4" fill="#f2f2f2"/><rect x="8.3" y="-26.2" width="4.9" height="18.4" fill="#f2f2f2"/><rect x="-25.4" y="-6.0" width="18.4" height="4.9" fill="#f2f2f2"/><rect x="-11.9" y="21.0" width="18.4" height="4.9" fill="#f2f2f2"/><rect x="-5.2" y="-26.2" width="4.9" height="18.4" fill="#f2f2f2"/><rect x="14.8" y="-27.1" width="18.4" height="4.9" fill="#f4f4f4"/><rect x="14.8" y="-13.6" width="18.4" height="4.9" fill="#f4f4f4"/><rect x="14.8" y="-27.1" width="4.9" height="18.4" fill="#f4f4f4"/><rect x="28.3" y="-27.1" width="4.9" height="18.4" fill="#f4f4f4"/><rect x="0.3" y="-13.0" width="18.4" height="4.9" fill="#f4f4f4"/><rect x="0.3" y="0.5" width="18.4" height="4.9" fill="#f4f4f4"/><rect x="0.3" y="-13.0" width="4.9" height="18.4" fill="#f4f4f4"/><rect x="13.8" y="-13.0" width="4.9" height="18.4" fill="#f4f4f4"/></g><rect x="20.9" y="-20.1" width="6.0" height="4.3" fill="#5f5f5f"/><rect x="6.5" y="-6.8" width="5.9" height="5.8" fill="#5f5f5f"/></g><g transform="translate(512.2,255.3) rotate(30.4)"><g filter="url(#sh)"><rect x="11.2" y="-7.6" width="20.4" height="5.4" fill="#f4f4f4"/><rect x="11.2" y="7.4" width="20.4" height="5.4" fill="#f4f4f4"/><rect x="11.2" y="-7.6" width="5.4" height="20.4" fill="#f4f4f4"/><rect x="26.2" y="-7.6" width="5.4" height="20.4" fill="#f4f4f4"/><rect x="-20.5" y="8.7" width="20.4" height="5.4" fill="#f4f4f4"/><rect x="-20.5" y="23.7" width="20.4" height="5.4" fill="#f4f4f4"/><rect x="-20.5" y="8.7" width="5.4" height="20.4" fill="#f4f4f4"/><rect x="-5.5" y="8.7" width="5.4" height="20.4" fill="#f4f4f4"/><rect x="-12.8" y="-7.4" width="5.4" height="20.4" fill="#f2f2f2"/><rect x="-19.3" y="-23.7" width="20.4" height="5.4" fill="#f4f4f4"/><rect x="-19.3" y="-8.7" width="20.4" height="5.4" fill="#f4f4f4"/><rect x="-19.3" y="-23.7" width="5.4" height="20.4" fill="#f4f4f4"/><rect x="-4.3" y="-23.7" width="5.4" height="20.4" fill="#f4f4f4"/><rect x="-5.3" y="-14.9" width="20.4" height="5.4" fill="#f2f2f2"/><rect x="-4.5" y="-7.5" width="20.4" height="5.4" fill="#f4f4f4"/><rect x="-4.5" y="7.5" width="20.4" height="5.4" fill="#f4f4f4"/><rect x="-4.5" y="-7.5" width="5.4" height="20.4" fill="#f4f4f4"/><rect x="10.5" y="-7.5" width="5.4" height="20.4" fill="#f4f4f4"/></g><rect x="19.0" y="0.3" width="4.7" height="4.7" fill="#5f5f5f"/><rect x="-13.2" y="15.8" width="5.8" height="6.2" fill="#5f5f5f"/><rect x="-12.2" y="-15.9" width="6.1" height="4.9" fill="#5f5f5f"/><rect x="2.7" y="0.2" width="5.9" height="5.1" fill="#5f5f5f"/></g></g>
<polygon points="484,265 502,231 511,229 542,259 544,271 490,277" fill="none" stroke="#9e4d6e" stroke-width="2.2" stroke-linejoin="round"/>
<g clip-path="url(#c18)"><polygon points="414,278 426,267 453,279 459,296 435,310 426,304" fill="url(#mg)"/><g transform="translate(434.7,288.0) rotate(87.9)"><g filter="url(#sh)"><rect x="8.4" y="-21.8" width="4.9" height="18.4" fill="#f2f2f2"/><rect x="-11.1" y="5.7" width="18.4" height="4.9" fill="#f4f4f4"/><rect x="-11.1" y="19.2" width="18.4" height="4.9" fill="#f4f4f4"/><rect x="-11.1" y="5.7" width="4.9" height="18.4" fill="#f4f4f4"/><rect x="2.4" y="5.7" width="4.9" height="18.4" fill="#f4f4f4"/><rect x="-5.1" y="-8.3" width="4.9" height="18.4" fill="#f2f2f2"/><rect x="-10.9" y="-23.0" width="18.4" height="4.9" fill="#f4f4f4"/><rect x="-10.9" y="-9.5" width="18.4" height="4.9" fill="#f4f4f4"/><rect x="-10.9" y="-23.0" width="4.9" height="18.4" fill="#f4f4f4"/><rect x="2.6" y="-23.0" width="4.9" height="18.4" fill="#f4f4f4"/></g><rect x="-4.9" y="12.6" width="5.9" height="4.7" fill="#5f5f5f"/><rect x="-4.4" y="-16.3" width="5.5" height="5.0" fill="#5f5f5f"/></g><g transform="translate(435.5,289.0) rotate(56.3)"><g filter="url(#sh)"><rect x="-14.7" y="-13.4" width="20.4" height="5.4" fill="#f4f4f4"/><rect x="-14.7" y="1.6" width="20.4" height="5.4" fill="#f4f4f4"/><rect x="-14.7" y="-13.4" width="5.4" height="20.4" fill="#f4f4f4"/><rect x="0.3" y="-13.4" width="5.4" height="20.4" fill="#f4f4f4"/><rect x="2.0" y="-14.4" width="20.4" height="5.4" fill="#f4f4f4"/><rect x="2.0" y="0.6" width="20.4" height="5.4" fill="#f4f4f4"/><rect x="2.0" y="-14.4" width="5.4" height="20.4" fill="#f4f4f4"/><rect x="17.0" y="-14.4" width="5.4" height="20.4" fill="#f4f4f4"/></g><rect x="-6.7" y="-6.5" width="4.5" height="6.6" fill="#5f5f5f"/><rect x="9.7" y="-7.4" width="5.0" height="6.4" fill="#5f5f5f"/></g></g>
<polygon points="414,278 426,267 453,279 459,296 435,310 426,304" fill="none" stroke="#9e4d6e" stroke-width="2.2" stroke-linejoin="round"/>
<g clip-path="url(#c19)"><polygon points="487,287 493,283 550,281 552,291 522,335 513,339 500,324" fill="url(#mg)"/><g transform="translate(519.0,306.5) rotate(74.3)"><g filter="url(#sh)"><rect x="10.3" y="-0.3" width="19.8" height="5.2" fill="#f2f2f2"/><rect x="-18.7" y="-21.5" width="19.8" height="5.2" fill="#f4f4f4"/><rect x="-18.7" y="-6.9" width="19.8" height="5.2" fill="#f4f4f4"/><rect x="-18.7" y="-21.5" width="5.2" height="19.8" fill="#f4f4f4"/><rect x="-4.2" y="-21.5" width="5.2" height="19.8" fill="#f4f4f4"/><rect x="-11.5" y="-7.6" width="5.2" height="19.8" fill="#f2f2f2"/></g><rect x="-11.5" y="-14.0" width="5.3" height="4.9" fill="#5f5f5f"/></g><g transform="translate(516.7,305.7) rotate(41.5)"><g filter="url(#sh)"><rect x="-24.5" y="-14.5" width="22.0" height="5.8" fill="#f4f4f4"/><rect x="-24.5" y="1.7" width="22.0" height="5.8" fill="#f4f4f4"/><rect x="-24.5" y="-14.5" width="5.8" height="22.0" fill="#f4f4f4"/><rect x="-8.3" y="-14.5" width="5.8" height="22.0" fill="#f4f4f4"/><rect x="-7.9" y="2.8" width="22.0" height="5.8" fill="#f4f4f4"/><rect x="-7.9" y="19.0" width="22.0" height="5.8" fill="#f4f4f4"/><rect x="-7.9" y="2.8" width="5.8" height="22.0" fill="#f4f4f4"/><rect x="8.3" y="2.8" width="5.8" height="22.0" fill="#f4f4f4"/><rect x="-9.0" y="-5.5" width="22.0" height="5.8" fill="#f2f2f2"/></g><rect x="-16.2" y="-6.2" width="5.4" height="5.4" fill="#5f5f5f"/><rect x="0.3" y="10.9" width="5.6" height="5.8" fill="#5f5f5f"/></g></g>
<polygon points="487,287 493,283 550,281 552,291 522,335 513,339 500,324" fill="none" stroke="#9e4d6e" stroke-width="2.2" stroke-linejoin="round"/>
<g clip-path="url(#c20)"><polygon points="531,357 557,305 565,304 581,381 572,383" fill="url(#mg)"/><g transform="translate(562.4,349.9) rotate(95.3)"><g filter="url(#sh)"><rect x="4.0" y="1.9" width="4.9" height="18.6" fill="#f2f2f2"/><rect x="-16.5" y="-4.9" width="18.6" height="4.9" fill="#f2f2f2"/><rect x="-29.9" y="-11.4" width="18.6" height="4.9" fill="#f4f4f4"/><rect x="-29.9" y="2.3" width="18.6" height="4.9" fill="#f4f4f4"/><rect x="-29.9" y="-11.4" width="4.9" height="18.6" fill="#f4f4f4"/><rect x="-16.2" y="-11.4" width="4.9" height="18.6" fill="#f4f4f4"/><rect x="-31.1" y="1.2" width="18.6" height="4.9" fill="#f4f4f4"/><rect x="-31.1" y="14.9" width="18.6" height="4.9" fill="#f4f4f4"/><rect x="-31.1" y="1.2" width="4.9" height="18.6" fill="#f4f4f4"/><rect x="-17.4" y="1.2" width="4.9" height="18.6" fill="#f4f4f4"/><rect x="-43.9" y="8.8" width="18.6" height="4.9" fill="#f2f2f2"/><rect x="4.0" y="-11.8" width="4.9" height="18.6" fill="#f2f2f2"/><rect x="-2.8" y="22.5" width="18.6" height="4.9" fill="#f2f2f2"/></g><rect x="-22.9" y="-4.6" width="4.6" height="4.9" fill="#5f5f5f"/><rect x="-24.5" y="7.8" width="5.3" height="5.4" fill="#5f5f5f"/></g><g transform="translate(561.2,346.0) rotate(72.8)"><g filter="url(#sh)"><rect x="-23.5" y="1.9" width="20.7" height="5.5" fill="#f4f4f4"/><rect x="-23.5" y="17.1" width="20.7" height="5.5" fill="#f4f4f4"/><rect x="-23.5" y="1.9" width="5.5" height="20.7" fill="#f4f4f4"/><rect x="-8.3" y="1.9" width="5.5" height="20.7" fill="#f4f4f4"/><rect x="-21.0" y="-13.0" width="20.7" height="5.5" fill="#f4f4f4"/><rect x="-21.0" y="2.3" width="20.7" height="5.5" fill="#f4f4f4"/><rect x="-21.0" y="-13.0" width="5.5" height="20.7" fill="#f4f4f4"/><rect x="-5.8" y="-13.0" width="5.5" height="20.7" fill="#f4f4f4"/><rect x="30.8" y="-13.5" width="5.5" height="20.7" fill="#f2f2f2"/><rect x="8.0" y="-5.9" width="20.7" height="5.5" fill="#f2f2f2"/><rect x="-7.3" y="9.4" width="20.7" height="5.5" fill="#f2f2f2"/></g><rect x="-16.2" y="9.5" width="6.1" height="5.5" fill="#5f5f5f"/><rect x="-13.4" y="-5.0" width="5.5" height="4.7" fill="#5f5f5f"/></g></g>
<polygon points="531,357 557,305 565,304 581,381 572,383" fill="none" stroke="#9e4d6e" stroke-width="2.2" stroke-linejoin="round"/>
<g clip-path="url(#c21)"><polygon points="574,285 581,280 637,289 639,298 600,368 591,368" fill="url(#mg)"/><g transform="translate(607.2,314.1) rotate(60.4)"><g filter="url(#sh)"><rect x="-27.1" y="-9.8" width="23.6" height="6.3" fill="#f4f4f4"/><rect x="-27.1" y="7.6" width="23.6" height="6.3" fill="#f4f4f4"/><rect x="-27.1" y="-9.8" width="6.3" height="23.6" fill="#f4f4f4"/><rect x="-9.7" y="-9.8" width="6.3" height="23.6" fill="#f4f4f4"/><rect x="-18.5" y="-27.6" width="6.3" height="23.6" fill="#f2f2f2"/><rect x="-9.8" y="-1.6" width="23.6" height="6.3" fill="#f2f2f2"/></g><rect x="-19.0" y="-0.7" width="7.6" height="5.4" fill="#5f5f5f"/></g><g transform="translate(603.7,314.7) rotate(36.4)"><g filter="url(#sh)"><rect x="-9.7" y="-2.2" width="26.3" height="6.9" fill="#f4f4f4"/><rect x="-9.7" y="17.1" width="26.3" height="6.9" fill="#f4f4f4"/><rect x="-9.7" y="-2.2" width="6.9" height="26.3" fill="#f4f4f4"/><rect x="9.6" y="-2.2" width="6.9" height="26.3" fill="#f4f4f4"/><rect x="-11.4" y="-21.7" width="26.3" height="6.9" fill="#f4f4f4"/><rect x="-11.4" y="-2.4" width="26.3" height="6.9" fill="#f4f4f4"/><rect x="-11.4" y="-21.7" width="6.9" height="26.3" fill="#f4f4f4"/><rect x="7.9" y="-21.7" width="6.9" height="26.3" fill="#f4f4f4"/><rect x="-29.5" y="-23.8" width="26.3" height="6.9" fill="#f4f4f4"/><rect x="-29.5" y="-4.5" width="26.3" height="6.9" fill="#f4f4f4"/><rect x="-29.5" y="-23.8" width="6.9" height="26.3" fill="#f4f4f4"/><rect x="-10.2" y="-23.8" width="6.9" height="26.3" fill="#f4f4f4"/></g><rect x="-0.2" y="7.9" width="7.2" height="5.9" fill="#5f5f5f"/><rect x="-2.0" y="-12.7" width="7.6" height="8.2" fill="#5f5f5f"/><rect x="-19.8" y="-14.8" width="7.0" height="8.2" fill="#5f5f5f"/></g></g>
<polygon points="574,285 581,280 637,289 639,298 600,368 591,368" fill="none" stroke="#9e4d6e" stroke-width="2.2" stroke-linejoin="round"/>
<g clip-path="url(#c22)"><polygon points="450,348 457,339 491,348 493,365 483,378 472,381" fill="url(#mg)"/><g transform="translate(471.8,357.6) rotate(104.6)"><g filter="url(#sh)"><rect x="-2.0" y="-16.7" width="18.4" height="4.9" fill="#f4f4f4"/><rect x="-2.0" y="-3.2" width="18.4" height="4.9" fill="#f4f4f4"/><rect x="-2.0" y="-16.7" width="4.9" height="18.4" fill="#f4f4f4"/><rect x="11.5" y="-16.7" width="4.9" height="18.4" fill="#f4f4f4"/><rect x="-15.4" y="9.6" width="18.4" height="4.9" fill="#f4f4f4"/><rect x="-15.4" y="23.1" width="18.4" height="4.9" fill="#f4f4f4"/><rect x="-15.4" y="9.6" width="4.9" height="18.4" fill="#f4f4f4"/><rect x="-1.9" y="9.6" width="4.9" height="18.4" fill="#f4f4f4"/><rect x="4.6" y="-4.0" width="4.9" height="18.4" fill="#f2f2f2"/><rect x="-8.9" y="-4.0" width="4.9" height="18.4" fill="#f2f2f2"/><rect x="-15.7" y="-10.8" width="18.4" height="4.9" fill="#f2f2f2"/></g><rect x="5.1" y="-10.4" width="4.1" height="5.7" fill="#5f5f5f"/><rect x="-8.9" y="16.5" width="5.3" height="4.7" fill="#5f5f5f"/></g><g transform="translate(474.3,359.8) rotate(74.6)"><g filter="url(#sh)"><rect x="-24.1" y="-0.1" width="20.4" height="5.4" fill="#f4f4f4"/><rect x="-24.1" y="14.9" width="20.4" height="5.4" fill="#f4f4f4"/><rect x="-24.1" y="-0.1" width="5.4" height="20.4" fill="#f4f4f4"/><rect x="-9.1" y="-0.1" width="5.4" height="20.4" fill="#f4f4f4"/><rect x="-9.8" y="6.6" width="20.4" height="5.4" fill="#f2f2f2"/><rect x="-10.1" y="-17.1" width="20.4" height="5.4" fill="#f4f4f4"/><rect x="-10.1" y="-2.1" width="20.4" height="5.4" fill="#f4f4f4"/><rect x="-10.1" y="-17.1" width="5.4" height="20.4" fill="#f4f4f4"/><rect x="4.9" y="-17.1" width="5.4" height="20.4" fill="#f4f4f4"/></g><rect x="-16.6" y="7.7" width="5.5" height="4.9" fill="#5f5f5f"/><rect x="-2.6" y="-9.8" width="5.5" height="5.6" fill="#5f5f5f"/></g></g>
<polygon points="450,348 457,339 491,348 493,365 483,378 472,381" fill="none" stroke="#9e4d6e" stroke-width="2.2" stroke-linejoin="round"/>
<g clip-path="url(#c23)"><polygon points="480,394 485,381 506,374 513,378 515,424 502,427" fill="url(#mg)"/><g transform="translate(501.3,393.0) rotate(42.0)"><g filter="url(#sh)"><rect x="-13.5" y="-15.4" width="18.4" height="4.9" fill="#f4f4f4"/><rect x="-13.5" y="-1.9" width="18.4" height="4.9" fill="#f4f4f4"/><rect x="-13.5" y="-15.4" width="4.9" height="18.4" fill="#f4f4f4"/><rect x="0.0" y="-15.4" width="4.9" height="18.4" fill="#f4f4f4"/><rect x="16.0" y="10.6" width="18.4" height="4.9" fill="#f4f4f4"/><rect x="16.0" y="24.1" width="18.4" height="4.9" fill="#f4f4f4"/><rect x="16.0" y="10.6" width="4.9" height="18.4" fill="#f4f4f4"/><rect x="29.5" y="10.6" width="4.9" height="18.4" fill="#f4f4f4"/><rect x="-5.4" y="-2.3" width="4.9" height="18.4" fill="#f2f2f2"/><rect x="8.1" y="-2.3" width="4.9" height="18.4" fill="#f2f2f2"/><rect x="-25.7" y="4.5" width="18.4" height="4.9" fill="#f2f2f2"/></g><rect x="-7.0" y="-8.4" width="5.5" height="4.3" fill="#5f5f5f"/><rect x="22.3" y="16.9" width="5.7" height="5.7" fill="#5f5f5f"/></g><g transform="translate(500.2,396.3) rotate(3.7)"><g filter="url(#sh)"><rect x="-4.1" y="-1.9" width="20.4" height="5.4" fill="#f4f4f4"/><rect x="-4.1" y="13.1" width="20.4" height="5.4" fill="#f4f4f4"/><rect x="-4.1" y="-1.9" width="5.4" height="20.4" fill="#f4f4f4"/><rect x="10.9" y="-1.9" width="5.4" height="20.4" fill="#f4f4f4"/><rect x="-6.7" y="-17.0" width="20.4" height="5.4" fill="#f4f4f4"/><rect x="-6.7" y="-2.0" width="20.4" height="5.4" fill="#f4f4f4"/><rect x="-6.7" y="-17.0" width="5.4" height="20.4" fill="#f4f4f4"/><rect x="8.3" y="-17.0" width="5.4" height="20.4" fill="#f4f4f4"/><rect x="-12.8" y="-16.0" width="5.4" height="20.4" fill="#f2f2f2"/><rect x="-4.5" y="12.8" width="20.4" height="5.4" fill="#f4f4f4"/><rect x="-4.5" y="27.8" width="20.4" height="5.4" fill="#f4f4f4"/><rect x="-4.5" y="12.8" width="5.4" height="20.4" fill="#f4f4f4"/><rect x="10.5" y="12.8" width="5.4" height="20.4" fill="#f4f4f4"/></g><rect x="3.6" y="5.5" width="5.1" height="5.6" fill="#5f5f5f"/><rect x="1.0" y="-10.1" width="4.9" height="6.6" fill="#5f5f5f"/><rect x="2.9" y="20.1" width="5.7" height="5.9" fill="#5f5f5f"/></g></g>
<polygon points="480,394 485,381 506,374 513,378 515,424 502,427" fill="none" stroke="#9e4d6e" stroke-width="2.2" stroke-linejoin="round"/>
<g clip-path="url(#c24)"><polygon points="522,378 528,374 550,380 572,398 570,413 537,435" fill="url(#mg)"/><g transform="translate(549.5,396.8) rotate(66.9)"><g filter="url(#sh)"><rect x="-4.0" y="5.7" width="4.9" height="18.4" fill="#f2f2f2"/><rect x="-24.3" y="-1.0" width="18.4" height="4.9" fill="#f2f2f2"/><rect x="-9.8" y="-8.5" width="18.4" height="4.9" fill="#f4f4f4"/><rect x="-9.8" y="5.0" width="18.4" height="4.9" fill="#f4f4f4"/><rect x="-9.8" y="-8.5" width="4.9" height="18.4" fill="#f4f4f4"/><rect x="3.7" y="-8.5" width="4.9" height="18.4" fill="#f4f4f4"/><rect x="9.5" y="5.7" width="4.9" height="18.4" fill="#f2f2f2"/><rect x="-10.8" y="-14.5" width="18.4" height="4.9" fill="#f2f2f2"/><rect x="1.7" y="-20.9" width="18.4" height="4.9" fill="#f4f4f4"/><rect x="1.7" y="-7.4" width="18.4" height="4.9" fill="#f4f4f4"/><rect x="1.7" y="-20.9" width="4.9" height="18.4" fill="#f4f4f4"/><rect x="15.2" y="-20.9" width="4.9" height="18.4" fill="#f4f4f4"/><rect x="15.4" y="6.2" width="18.4" height="4.9" fill="#f4f4f4"/><rect x="15.4" y="19.7" width="18.4" height="4.9" fill="#f4f4f4"/><rect x="15.4" y="6.2" width="4.9" height="18.4" fill="#f4f4f4"/><rect x="28.9" y="6.2" width="4.9" height="18.4" fill="#f4f4f4"/></g><rect x="-3.3" y="-2.3" width="5.3" height="6.0" fill="#5f5f5f"/><rect x="8.4" y="-14.3" width="4.9" height="5.1" fill="#5f5f5f"/><rect x="22.5" y="13.3" width="4.1" height="4.1" fill="#5f5f5f"/></g><g transform="translate(546.5,396.3) rotate(32.4)"><g filter="url(#sh)"><rect x="-5.5" y="-9.7" width="20.4" height="5.4" fill="#f4f4f4"/><rect x="-5.5" y="5.3" width="20.4" height="5.4" fill="#f4f4f4"/><rect x="-5.5" y="-9.7" width="5.4" height="20.4" fill="#f4f4f4"/><rect x="9.5" y="-9.7" width="5.4" height="20.4" fill="#f4f4f4"/><rect x="-21.3" y="-7.7" width="20.4" height="5.4" fill="#f4f4f4"/><rect x="-21.3" y="7.3" width="20.4" height="5.4" fill="#f4f4f4"/><rect x="-21.3" y="-7.7" width="5.4" height="20.4" fill="#f4f4f4"/><rect x="-6.3" y="-7.7" width="5.4" height="20.4" fill="#f4f4f4"/><rect x="9.1" y="-8.1" width="20.4" height="5.4" fill="#f4f4f4"/><rect x="9.1" y="6.9" width="20.4" height="5.4" fill="#f4f4f4"/><rect x="9.1" y="-8.1" width="5.4" height="20.4" fill="#f4f4f4"/><rect x="24.1" y="-8.1" width="5.4" height="20.4" fill="#f4f4f4"/></g><rect x="2.1" y="-2.7" width="5.3" height="6.4" fill="#5f5f5f"/><rect x="-14.2" y="-0.3" width="6.1" height="5.5" fill="#5f5f5f"/><rect x="16.7" y="-1.1" width="5.1" height="6.3" fill="#5f5f5f"/></g></g>
<polygon points="522,378 528,374 550,380 572,398 570,413 537,435" fill="none" stroke="#9e4d6e" stroke-width="2.2" stroke-linejoin="round"/>
<g clip-path="url(#c25)"><polygon points="535,450 546,439 574,420 583,426 585,472 574,480" fill="url(#mg)"/><g transform="translate(568.7,451.0) rotate(39.9)"><g filter="url(#sh)"><rect x="-1.4" y="-7.8" width="18.4" height="4.9" fill="#f2f2f2"/><rect x="-14.0" y="-29.5" width="18.4" height="4.9" fill="#f4f4f4"/><rect x="-14.0" y="-16.0" width="18.4" height="4.9" fill="#f4f4f4"/><rect x="-14.0" y="-29.5" width="4.9" height="18.4" fill="#f4f4f4"/><rect x="-0.5" y="-29.5" width="4.9" height="18.4" fill="#f4f4f4"/><rect x="-15.8" y="-14.2" width="18.4" height="4.9" fill="#f4f4f4"/><rect x="-15.8" y="-0.7" width="18.4" height="4.9" fill="#f4f4f4"/><rect x="-15.8" y="-14.2" width="4.9" height="18.4" fill="#f4f4f4"/><rect x="-2.3" y="-14.2" width="4.9" height="18.4" fill="#f4f4f4"/><rect x="-28.4" y="-7.8" width="18.4" height="4.9" fill="#f2f2f2"/><rect x="-1.4" y="5.7" width="18.4" height="4.9" fill="#f2f2f2"/></g><rect x="-7.4" y="-23.3" width="5.2" height="6.0" fill="#5f5f5f"/><rect x="-9.1" y="-7.7" width="5.1" height="5.3" fill="#5f5f5f"/></g><g transform="translate(566.2,447.8) rotate(5.1)"><g filter="url(#sh)"><rect x="2.0" y="-10.8" width="20.4" height="5.4" fill="#f4f4f4"/><rect x="2.0" y="4.2" width="20.4" height="5.4" fill="#f4f4f4"/><rect x="2.0" y="-10.8" width="5.4" height="20.4" fill="#f4f4f4"/><rect x="17.0" y="-10.8" width="5.4" height="20.4" fill="#f4f4f4"/><rect x="-0.8" y="5.3" width="20.4" height="5.4" fill="#f4f4f4"/><rect x="-0.8" y="20.3" width="20.4" height="5.4" fill="#f4f4f4"/><rect x="-0.8" y="5.3" width="5.4" height="20.4" fill="#f4f4f4"/><rect x="14.2" y="5.3" width="5.4" height="20.4" fill="#f4f4f4"/></g><rect x="9.2" y="-3.0" width="5.9" height="4.8" fill="#5f5f5f"/><rect x="6.4" y="12.5" width="6.0" height="6.0" fill="#5f5f5f"/></g></g>
<polygon points="535,450 546,439 574,420 583,426 585,472 574,480" fill="none" stroke="#9e4d6e" stroke-width="2.2" stroke-linejoin="round"/>
<g clip-path="url(#c26)"><polygon points="598,481 652,415 663,419 659,513 641,517 602,496" fill="url(#mg)"/><g transform="translate(634.2,476.9) rotate(129.8)"><g filter="url(#sh)"><rect x="-46.7" y="5.9" width="24.5" height="6.5" fill="#f2f2f2"/><rect x="16.3" y="-3.1" width="6.5" height="24.5" fill="#f2f2f2"/><rect x="-1.7" y="-21.1" width="6.5" height="24.5" fill="#f2f2f2"/><rect x="-30.1" y="-1.7" width="24.5" height="6.5" fill="#f4f4f4"/><rect x="-30.1" y="16.3" width="24.5" height="6.5" fill="#f4f4f4"/><rect x="-30.1" y="-1.7" width="6.5" height="24.5" fill="#f4f4f4"/><rect x="-12.1" y="-1.7" width="6.5" height="24.5" fill="#f4f4f4"/></g><rect x="-20.9" y="6.6" width="6.0" height="7.8" fill="#5f5f5f"/></g><g transform="translate(635.8,473.5) rotate(87.5)"><g filter="url(#sh)"><rect x="1.0" y="-24.5" width="27.2" height="7.2" fill="#f4f4f4"/><rect x="1.0" y="-4.5" width="27.2" height="7.2" fill="#f4f4f4"/><rect x="1.0" y="-24.5" width="7.2" height="27.2" fill="#f4f4f4"/><rect x="21.0" y="-24.5" width="7.2" height="27.2" fill="#f4f4f4"/><rect x="-19.2" y="-5.2" width="27.2" height="7.2" fill="#f4f4f4"/><rect x="-19.2" y="14.8" width="27.2" height="7.2" fill="#f4f4f4"/><rect x="-19.2" y="-5.2" width="7.2" height="27.2" fill="#f4f4f4"/><rect x="0.8" y="-5.2" width="7.2" height="27.2" fill="#f4f4f4"/><rect x="-17.5" y="-26.2" width="27.2" height="7.2" fill="#f4f4f4"/><rect x="-17.5" y="-6.2" width="27.2" height="7.2" fill="#f4f4f4"/><rect x="-17.5" y="-26.2" width="7.2" height="27.2" fill="#f4f4f4"/><rect x="2.5" y="-26.2" width="7.2" height="27.2" fill="#f4f4f4"/><rect x="3.3" y="-4.5" width="27.2" height="7.2" fill="#f4f4f4"/><rect x="3.3" y="15.5" width="27.2" height="7.2" fill="#f4f4f4"/><rect x="3.3" y="-4.5" width="7.2" height="27.2" fill="#f4f4f4"/><rect x="23.3" y="-4.5" width="7.2" height="27.2" fill="#f4f4f4"/></g><rect x="11.1" y="-14.1" width="7.0" height="6.4" fill="#5f5f5f"/><rect x="-9.5" y="4.4" width="7.9" height="8.1" fill="#5f5f5f"/><rect x="-8.2" y="-16.8" width="8.5" height="8.5" fill="#5f5f5f"/><rect x="12.5" y="5.9" width="8.8" height="6.3" fill="#5f5f5f"/></g></g>
<polygon points="598,481 652,415 663,419 659,513 641,517 602,496" fill="none" stroke="#9e4d6e" stroke-width="2.2" stroke-linejoin="round"/>
<g clip-path="url(#c27)"><polygon points="678,508 726,452 737,452 756,502 752,515 685,519" fill="url(#mg)"/><g transform="translate(719.2,487.6) rotate(59.7)"><g filter="url(#sh)"><rect x="-13.9" y="-35.6" width="23.1" height="6.1" fill="#f4f4f4"/><rect x="-13.9" y="-18.6" width="23.1" height="6.1" fill="#f4f4f4"/><rect x="-13.9" y="-35.6" width="6.1" height="23.1" fill="#f4f4f4"/><rect x="3.0" y="-35.6" width="6.1" height="23.1" fill="#f4f4f4"/><rect x="-15.4" y="15.5" width="23.1" height="6.1" fill="#f4f4f4"/><rect x="-15.4" y="32.5" width="23.1" height="6.1" fill="#f4f4f4"/><rect x="-15.4" y="15.5" width="6.1" height="23.1" fill="#f4f4f4"/><rect x="1.5" y="15.5" width="6.1" height="23.1" fill="#f4f4f4"/><rect x="-23.2" y="-34.7" width="6.1" height="23.1" fill="#f2f2f2"/><rect x="-6.2" y="-0.8" width="6.1" height="23.1" fill="#f2f2f2"/><rect x="2.0" y="-17.9" width="23.1" height="6.1" fill="#f4f4f4"/><rect x="2.0" y="-1.0" width="23.1" height="6.1" fill="#f4f4f4"/><rect x="2.0" y="-17.9" width="6.1" height="23.1" fill="#f4f4f4"/><rect x="18.9" y="-17.9" width="6.1" height="23.1" fill="#f4f4f4"/></g><rect x="-5.4" y="-27.1" width="5.9" height="6.2" fill="#5f5f5f"/><rect x="-7.4" y="24.0" width="6.9" height="6.0" fill="#5f5f5f"/><rect x="10.0" y="-9.4" width="7.1" height="6.0" fill="#5f5f5f"/></g><g transform="translate(722.3,491.3) rotate(18.5)"><g filter="url(#sh)"><rect x="-3.6" y="-26.8" width="25.6" height="6.8" fill="#f4f4f4"/><rect x="-3.6" y="-7.9" width="25.6" height="6.8" fill="#f4f4f4"/><rect x="-3.6" y="-26.8" width="6.8" height="25.6" fill="#f4f4f4"/><rect x="15.3" y="-26.8" width="6.8" height="25.6" fill="#f4f4f4"/><rect x="-21.5" y="-7.8" width="25.6" height="6.8" fill="#f4f4f4"/><rect x="-21.5" y="11.0" width="25.6" height="6.8" fill="#f4f4f4"/><rect x="-21.5" y="-7.8" width="6.8" height="25.6" fill="#f4f4f4"/><rect x="-2.7" y="-7.8" width="6.8" height="25.6" fill="#f4f4f4"/><rect x="6.7" y="-8.7" width="6.8" height="25.6" fill="#f2f2f2"/><rect x="-20.2" y="9.5" width="25.6" height="6.8" fill="#f4f4f4"/><rect x="-20.2" y="28.3" width="25.6" height="6.8" fill="#f4f4f4"/><rect x="-20.2" y="9.5" width="6.8" height="25.6" fill="#f4f4f4"/><rect x="-1.3" y="9.5" width="6.8" height="25.6" fill="#f4f4f4"/><rect x="-21.5" y="-18.1" width="25.6" height="6.8" fill="#f2f2f2"/></g><rect x="5.0" y="-16.8" width="8.4" height="5.7" fill="#5f5f5f"/><rect x="-11.8" y="1.4" width="6.2" height="7.0" fill="#5f5f5f"/><rect x="-10.5" y="18.5" width="6.3" height="7.6" fill="#5f5f5f"/></g></g>
<polygon points="678,508 726,452 737,452 756,502 752,515 685,519" fill="none" stroke="#9e4d6e" stroke-width="2.2" stroke-linejoin="round"/>
<g clip-path="url(#c28)"><polygon points="693,361 735,306 743,306 770,350 767,361 700,370" fill="url(#mg)"/><g transform="translate(731.3,344.6) rotate(94.7)"><g filter="url(#sh)"><rect x="-6.2" y="-32.6" width="5.7" height="21.6" fill="#f2f2f2"/><rect x="1.7" y="7.1" width="21.6" height="5.7" fill="#f2f2f2"/><rect x="9.6" y="15.1" width="5.7" height="21.6" fill="#f2f2f2"/><rect x="9.6" y="-16.7" width="5.7" height="21.6" fill="#f2f2f2"/><rect x="-6.2" y="-16.7" width="5.7" height="21.6" fill="#f2f2f2"/></g></g><g transform="translate(734.7,342.3) rotate(57.3)"><g filter="url(#sh)"><rect x="1.3" y="-1.5" width="24.0" height="6.4" fill="#f4f4f4"/><rect x="1.3" y="16.2" width="24.0" height="6.4" fill="#f4f4f4"/><rect x="1.3" y="-1.5" width="6.4" height="24.0" fill="#f4f4f4"/><rect x="18.9" y="-1.5" width="6.4" height="24.0" fill="#f4f4f4"/><rect x="-16.9" y="-2.0" width="24.0" height="6.4" fill="#f4f4f4"/><rect x="-16.9" y="15.6" width="24.0" height="6.4" fill="#f4f4f4"/><rect x="-16.9" y="-2.0" width="6.4" height="24.0" fill="#f4f4f4"/><rect x="0.7" y="-2.0" width="6.4" height="24.0" fill="#f4f4f4"/><rect x="9.0" y="-19.0" width="6.4" height="24.0" fill="#f2f2f2"/><rect x="-17.5" y="25.2" width="24.0" height="6.4" fill="#f2f2f2"/></g><rect x="9.9" y="7.5" width="6.8" height="6.1" fill="#5f5f5f"/><rect x="-7.9" y="6.9" width="5.9" height="6.2" fill="#5f5f5f"/></g></g>
<polygon points="693,361 735,306 743,306 770,350 767,361 700,370" fill="none" stroke="#9e4d6e" stroke-width="2.2" stroke-linejoin="round"/>
<g clip-path="url(#c29)"><polygon points="696,383 707,374 759,370 761,378 730,417 719,418" fill="url(#mg)"/><g transform="translate(729.6,391.8) rotate(118.8)"><g filter="url(#sh)"><rect x="7.3" y="-14.5" width="4.9" height="18.4" fill="#f2f2f2"/><rect x="-26.4" y="-7.8" width="18.4" height="4.9" fill="#f2f2f2"/><rect x="-13.5" y="11.9" width="18.4" height="4.9" fill="#f4f4f4"/><rect x="-13.5" y="25.4" width="18.4" height="4.9" fill="#f4f4f4"/><rect x="-13.5" y="11.9" width="4.9" height="18.4" fill="#f4f4f4"/><rect x="-0.0" y="11.9" width="4.9" height="18.4" fill="#f4f4f4"/><rect x="-6.2" y="-1.0" width="4.9" height="18.4" fill="#f2f2f2"/><rect x="0.6" y="19.2" width="18.4" height="4.9" fill="#f2f2f2"/><rect x="0.6" y="5.7" width="18.4" height="4.9" fill="#f2f2f2"/></g><rect x="-6.6" y="18.9" width="4.6" height="4.3" fill="#5f5f5f"/></g><g transform="translate(728.7,390.0) rotate(74.4)"><g filter="url(#sh)"><rect x="-10.8" y="10.0" width="20.4" height="5.4" fill="#f4f4f4"/><rect x="-10.8" y="25.0" width="20.4" height="5.4" fill="#f4f4f4"/><rect x="-10.8" y="10.0" width="5.4" height="20.4" fill="#f4f4f4"/><rect x="4.2" y="10.0" width="5.4" height="20.4" fill="#f4f4f4"/><rect x="-3.0" y="-5.8" width="5.4" height="20.4" fill="#f2f2f2"/><rect x="4.5" y="1.7" width="20.4" height="5.4" fill="#f2f2f2"/><rect x="-3.0" y="-20.8" width="5.4" height="20.4" fill="#f2f2f2"/></g><rect x="-3.8" y="17.4" width="6.5" height="5.5" fill="#5f5f5f"/></g></g>
<polygon points="696,383 707,374 759,370 761,378 730,417 719,418" fill="none" stroke="#9e4d6e" stroke-width="2.2" stroke-linejoin="round"/>
<g clip-path="url(#c30)"><polygon points="748,420 765,393 780,394 783,431 774,439 752,431" fill="url(#mg)"/><g transform="translate(768.6,420.8) rotate(106.7)"><g filter="url(#sh)"><rect x="-27.5" y="3.7" width="18.4" height="4.9" fill="#f2f2f2"/><rect x="6.2" y="-3.1" width="4.9" height="18.4" fill="#f2f2f2"/><rect x="-14.0" y="3.7" width="18.4" height="4.9" fill="#f2f2f2"/></g></g><g transform="translate(767.0,418.0) rotate(69.7)"><g filter="url(#sh)"><rect x="-12.8" y="-18.9" width="20.4" height="5.4" fill="#f4f4f4"/><rect x="-12.8" y="-3.9" width="20.4" height="5.4" fill="#f4f4f4"/><rect x="-12.8" y="-18.9" width="5.4" height="20.4" fill="#f4f4f4"/><rect x="2.2" y="-18.9" width="5.4" height="20.4" fill="#f4f4f4"/><rect x="-28.1" y="-18.3" width="20.4" height="5.4" fill="#f4f4f4"/><rect x="-28.1" y="-3.3" width="20.4" height="5.4" fill="#f4f4f4"/><rect x="-28.1" y="-18.3" width="5.4" height="20.4" fill="#f4f4f4"/><rect x="-13.1" y="-18.3" width="5.4" height="20.4" fill="#f4f4f4"/><rect x="-12.8" y="-1.4" width="20.4" height="5.4" fill="#f4f4f4"/><rect x="-12.8" y="13.6" width="20.4" height="5.4" fill="#f4f4f4"/><rect x="-12.8" y="-1.4" width="5.4" height="20.4" fill="#f4f4f4"/><rect x="2.2" y="-1.4" width="5.4" height="20.4" fill="#f4f4f4"/></g><rect x="-5.8" y="-12.0" width="6.4" height="6.5" fill="#5f5f5f"/><rect x="-20.9" y="-11.4" width="6.1" height="6.6" fill="#5f5f5f"/><rect x="-5.3" y="6.3" width="5.5" height="5.0" fill="#5f5f5f"/></g></g>
<polygon points="748,420 765,393 780,394 783,431 774,439 752,431" fill="none" stroke="#9e4d6e" stroke-width="2.2" stroke-linejoin="round"/>
<g clip-path="url(#c31)"><polygon points="748,447 755,443 783,451 781,467 770,482 761,482" fill="url(#mg)"/><g transform="translate(762.5,464.3) rotate(72.1)"><g filter="url(#sh)"><rect x="-11.3" y="-12.7" width="4.9" height="18.4" fill="#f2f2f2"/><rect x="-3.1" y="-26.6" width="18.4" height="4.9" fill="#f4f4f4"/><rect x="-3.1" y="-13.1" width="18.4" height="4.9" fill="#f4f4f4"/><rect x="-3.1" y="-26.6" width="4.9" height="18.4" fill="#f4f4f4"/><rect x="10.4" y="-26.6" width="4.9" height="18.4" fill="#f4f4f4"/><rect x="-18.1" y="-19.4" width="18.4" height="4.9" fill="#f2f2f2"/><rect x="-4.6" y="-5.9" width="18.4" height="4.9" fill="#f2f2f2"/></g><rect x="4.0" y="-19.7" width="4.2" height="4.6" fill="#5f5f5f"/></g><g transform="translate(766.3,462.0) rotate(42.8)"><g filter="url(#sh)"><rect x="-15.3" y="-5.2" width="20.4" height="5.4" fill="#f4f4f4"/><rect x="-15.3" y="9.8" width="20.4" height="5.4" fill="#f4f4f4"/><rect x="-15.3" y="-5.2" width="5.4" height="20.4" fill="#f4f4f4"/><rect x="-0.3" y="-5.2" width="5.4" height="20.4" fill="#f4f4f4"/></g><rect x="-8.4" y="1.6" width="6.6" height="6.7" fill="#5f5f5f"/></g></g>
<polygon points="748,447 755,443 783,451 781,467 770,482 761,482" fill="none" stroke="#9e4d6e" stroke-width="2.2" stroke-linejoin="round"/>
<g clip-path="url(#c32)"><polygon points="807,464 814,455 832,456 838,467 835,488 826,490" fill="url(#mg)"/><g transform="translate(825.0,467.3) rotate(129.7)"><g filter="url(#sh)"><rect x="-1.5" y="1.6" width="4.9" height="18.4" fill="#f2f2f2"/><rect x="-1.5" y="-11.9" width="4.9" height="18.4" fill="#f2f2f2"/></g></g><g transform="translate(825.3,470.0) rotate(86.5)"><g filter="url(#sh)"><rect x="-20.5" y="-0.5" width="20.4" height="5.4" fill="#f4f4f4"/><rect x="-20.5" y="14.5" width="20.4" height="5.4" fill="#f4f4f4"/><rect x="-20.5" y="-0.5" width="5.4" height="20.4" fill="#f4f4f4"/><rect x="-5.5" y="-0.5" width="5.4" height="20.4" fill="#f4f4f4"/><rect x="2.6" y="-15.6" width="5.4" height="20.4" fill="#f2f2f2"/></g><rect x="-12.7" y="6.5" width="4.8" height="6.4" fill="#5f5f5f"/></g></g>
<polygon points="807,464 814,455 832,456 838,467 835,488 826,490" fill="none" stroke="#9e4d6e" stroke-width="2.2" stroke-linejoin="round"/>
<g clip-path="url(#c33)"><polygon points="774,503 784,473 796,470 820,503 814,513 777,509" fill="url(#mg)"/><g transform="translate(793.2,493.2) rotate(54.7)"><g filter="url(#sh)"><rect x="-20.2" y="-15.9" width="18.4" height="4.9" fill="#f2f2f2"/><rect x="-6.7" y="-2.4" width="18.4" height="4.9" fill="#f2f2f2"/><rect x="-20.2" y="-2.4" width="18.4" height="4.9" fill="#f2f2f2"/><rect x="6.8" y="-2.4" width="18.4" height="4.9" fill="#f2f2f2"/><rect x="-6.7" y="-15.9" width="18.4" height="4.9" fill="#f2f2f2"/></g></g><g transform="translate(794.2,495.2) rotate(24.1)"><g filter="url(#sh)"><rect x="-18.1" y="-6.3" width="20.4" height="5.4" fill="#f4f4f4"/><rect x="-18.1" y="8.7" width="20.4" height="5.4" fill="#f4f4f4"/><rect x="-18.1" y="-6.3" width="5.4" height="20.4" fill="#f4f4f4"/><rect x="-3.1" y="-6.3" width="5.4" height="20.4" fill="#f4f4f4"/><rect x="-9.7" y="-20.0" width="5.4" height="20.4" fill="#f2f2f2"/><rect x="-2.4" y="-4.2" width="20.4" height="5.4" fill="#f4f4f4"/><rect x="-2.4" y="10.8" width="20.4" height="5.4" fill="#f4f4f4"/><rect x="-2.4" y="-4.2" width="5.4" height="20.4" fill="#f4f4f4"/><rect x="12.6" y="-4.2" width="5.4" height="20.4" fill="#f4f4f4"/></g><rect x="-10.5" y="1.0" width="5.2" height="5.9" fill="#5f5f5f"/><rect x="5.3" y="3.3" width="5.0" height="5.4" fill="#5f5f5f"/></g></g>
<polygon points="774,503 784,473 796,470 820,503 814,513 777,509" fill="none" stroke="#9e4d6e" stroke-width="2.2" stroke-linejoin="round"/>
<g clip-path="url(#c34)"><polygon points="844,473 853,470 894,494 888,509 850,515 842,500" fill="url(#mg)"/><g transform="translate(862.7,495.0) rotate(92.5)"><g filter="url(#sh)"><rect x="-8.0" y="9.7" width="18.4" height="4.9" fill="#f2f2f2"/><rect x="5.3" y="4.0" width="18.4" height="4.9" fill="#f4f4f4"/><rect x="5.3" y="17.5" width="18.4" height="4.9" fill="#f4f4f4"/><rect x="5.3" y="4.0" width="4.9" height="18.4" fill="#f4f4f4"/><rect x="18.8" y="4.0" width="4.9" height="18.4" fill="#f4f4f4"/><rect x="-1.2" y="-37.5" width="4.9" height="18.4" fill="#f2f2f2"/><rect x="5.5" y="-3.8" width="18.4" height="4.9" fill="#f2f2f2"/><rect x="-1.2" y="-24.0" width="4.9" height="18.4" fill="#f2f2f2"/><rect x="-21.5" y="9.7" width="18.4" height="4.9" fill="#f2f2f2"/><rect x="-8.0" y="-3.8" width="18.4" height="4.9" fill="#f2f2f2"/></g><rect x="12.0" y="10.6" width="5.0" height="5.2" fill="#5f5f5f"/></g><g transform="translate(861.8,493.5) rotate(48.1)"><g filter="url(#sh)"><rect x="-21.2" y="-2.8" width="20.4" height="5.4" fill="#f4f4f4"/><rect x="-21.2" y="12.2" width="20.4" height="5.4" fill="#f4f4f4"/><rect x="-21.2" y="-2.8" width="5.4" height="20.4" fill="#f4f4f4"/><rect x="-6.2" y="-2.8" width="5.4" height="20.4" fill="#f4f4f4"/><rect x="-13.2" y="-18.2" width="5.4" height="20.4" fill="#f2f2f2"/><rect x="9.2" y="-17.4" width="20.4" height="5.4" fill="#f4f4f4"/><rect x="9.2" y="-2.4" width="20.4" height="5.4" fill="#f4f4f4"/><rect x="9.2" y="-17.4" width="5.4" height="20.4" fill="#f4f4f4"/><rect x="24.2" y="-17.4" width="5.4" height="20.4" fill="#f4f4f4"/><rect x="-5.7" y="4.3" width="20.4" height="5.4" fill="#f2f2f2"/></g><rect x="-13.2" y="5.1" width="4.5" height="4.6" fill="#5f5f5f"/><rect x="17.0" y="-9.7" width="4.8" height="5.0" fill="#5f5f5f"/></g></g>
<polygon points="844,473 853,470 894,494 888,509 850,515 842,500" fill="none" stroke="#9e4d6e" stroke-width="2.2" stroke-linejoin="round"/>
<g clip-path="url(#c35)"><polygon points="790,536 796,522 830,524 832,539 821,555 808,555" fill="url(#mg)"/><g transform="translate(814.1,537.2) rotate(48.0)"><g filter="url(#sh)"><rect x="-8.4" y="-10.4" width="4.9" height="18.4" fill="#f2f2f2"/><rect x="-8.4" y="3.1" width="4.9" height="18.4" fill="#f2f2f2"/><rect x="5.1" y="-10.4" width="4.9" height="18.4" fill="#f2f2f2"/></g></g><g transform="translate(812.8,538.5) rotate(8.5)"><g filter="url(#sh)"><rect x="-6.6" y="-3.2" width="20.4" height="5.4" fill="#f4f4f4"/><rect x="-6.6" y="11.8" width="20.4" height="5.4" fill="#f4f4f4"/><rect x="-6.6" y="-3.2" width="5.4" height="20.4" fill="#f4f4f4"/><rect x="8.4" y="-3.2" width="5.4" height="20.4" fill="#f4f4f4"/><rect x="1.4" y="-17.6" width="5.4" height="20.4" fill="#f2f2f2"/><rect x="-20.5" y="-16.4" width="20.4" height="5.4" fill="#f4f4f4"/><rect x="-20.5" y="-1.4" width="20.4" height="5.4" fill="#f4f4f4"/><rect x="-20.5" y="-16.4" width="5.4" height="20.4" fill="#f4f4f4"/><rect x="-5.5" y="-16.4" width="5.4" height="20.4" fill="#f4f4f4"/></g><rect x="1.0" y="4.1" width="5.2" height="5.8" fill="#5f5f5f"/><rect x="-13.1" y="-8.6" width="5.7" height="4.6" fill="#5f5f5f"/></g></g>
<polygon points="790,536 796,522 830,524 832,539 821,555 808,555" fill="none" stroke="#9e4d6e" stroke-width="2.2" stroke-linejoin="round"/>
<g clip-path="url(#c36)"><polygon points="867,533 871,522 907,515 914,524 910,549 898,553 874,540" fill="url(#mg)"/><g transform="translate(887.6,531.2) rotate(70.1)"><g filter="url(#sh)"><rect x="-7.7" y="-13.8" width="4.9" height="18.4" fill="#f2f2f2"/><rect x="-7.7" y="-27.3" width="4.9" height="18.4" fill="#f2f2f2"/><rect x="-7.7" y="-0.3" width="4.9" height="18.4" fill="#f2f2f2"/><rect x="5.8" y="-27.3" width="4.9" height="18.4" fill="#f2f2f2"/><rect x="-1.9" y="-1.7" width="18.4" height="4.9" fill="#f4f4f4"/><rect x="-1.9" y="11.8" width="18.4" height="4.9" fill="#f4f4f4"/><rect x="-1.9" y="-1.7" width="4.9" height="18.4" fill="#f4f4f4"/><rect x="11.6" y="-1.7" width="4.9" height="18.4" fill="#f4f4f4"/><rect x="-1.0" y="-7.0" width="18.4" height="4.9" fill="#f2f2f2"/></g><rect x="4.5" y="4.5" width="5.6" height="5.9" fill="#5f5f5f"/></g><g transform="translate(891.6,533.7) rotate(27.0)"><g filter="url(#sh)"><rect x="1.1" y="-2.0" width="20.4" height="5.4" fill="#f4f4f4"/><rect x="1.1" y="13.0" width="20.4" height="5.4" fill="#f4f4f4"/><rect x="1.1" y="-2.0" width="5.4" height="20.4" fill="#f4f4f4"/><rect x="16.1" y="-2.0" width="5.4" height="20.4" fill="#f4f4f4"/><rect x="-13.2" y="-18.2" width="20.4" height="5.4" fill="#f4f4f4"/><rect x="-13.2" y="-3.2" width="20.4" height="5.4" fill="#f4f4f4"/><rect x="-13.2" y="-18.2" width="5.4" height="20.4" fill="#f4f4f4"/><rect x="1.8" y="-18.2" width="5.4" height="20.4" fill="#f4f4f4"/><rect x="-5.9" y="-1.8" width="5.4" height="20.4" fill="#f2f2f2"/><rect x="1.6" y="-9.3" width="20.4" height="5.4" fill="#f2f2f2"/></g><rect x="8.3" y="4.9" width="5.9" height="6.6" fill="#5f5f5f"/><rect x="-5.4" y="-11.1" width="4.8" height="6.3" fill="#5f5f5f"/></g></g>
<polygon points="867,533 871,522 907,515 914,524 910,549 898,553 874,540" fill="none" stroke="#9e4d6e" stroke-width="2.2" stroke-linejoin="round"/>
<g clip-path="url(#c37)"><polygon points="728,571 746,544 762,547 779,587 768,596 740,586" fill="url(#mg)"/><g transform="translate(754.6,575.3) rotate(79.4)"><g filter="url(#sh)"><rect x="-16.3" y="16.6" width="18.4" height="4.9" fill="#f2f2f2"/><rect x="-9.5" y="-17.1" width="4.9" height="18.4" fill="#f2f2f2"/><rect x="10.7" y="-10.4" width="18.4" height="4.9" fill="#f2f2f2"/><rect x="-16.3" y="3.1" width="18.4" height="4.9" fill="#f2f2f2"/><rect x="-2.8" y="-10.4" width="18.4" height="4.9" fill="#f2f2f2"/></g></g><g transform="translate(753.8,571.8) rotate(34.8)"><g filter="url(#sh)"><rect x="-3.4" y="-14.7" width="20.4" height="5.4" fill="#f4f4f4"/><rect x="-3.4" y="0.3" width="20.4" height="5.4" fill="#f4f4f4"/><rect x="-3.4" y="-14.7" width="5.4" height="20.4" fill="#f4f4f4"/><rect x="11.6" y="-14.7" width="5.4" height="20.4" fill="#f4f4f4"/><rect x="-21.2" y="1.5" width="20.4" height="5.4" fill="#f4f4f4"/><rect x="-21.2" y="16.5" width="20.4" height="5.4" fill="#f4f4f4"/><rect x="-21.2" y="1.5" width="5.4" height="20.4" fill="#f4f4f4"/><rect x="-6.2" y="1.5" width="5.4" height="20.4" fill="#f4f4f4"/><rect x="-4.0" y="0.0" width="20.4" height="5.4" fill="#f4f4f4"/><rect x="-4.0" y="15.0" width="20.4" height="5.4" fill="#f4f4f4"/><rect x="-4.0" y="0.0" width="5.4" height="20.4" fill="#f4f4f4"/><rect x="11.0" y="0.0" width="5.4" height="20.4" fill="#f4f4f4"/><rect x="-20.1" y="-28.8" width="20.4" height="5.4" fill="#f4f4f4"/><rect x="-20.1" y="-13.8" width="20.4" height="5.4" fill="#f4f4f4"/><rect x="-20.1" y="-28.8" width="5.4" height="20.4" fill="#f4f4f4"/><rect x="-5.1" y="-28.8" width="5.4" height="20.4" fill="#f4f4f4"/><rect x="-18.8" y="-14.4" width="20.4" height="5.4" fill="#f4f4f4"/><rect x="-18.8" y="0.6" width="20.4" height="5.4" fill="#f4f4f4"/><rect x="-18.8" y="-14.4" width="5.4" height="20.4" fill="#f4f4f4"/><rect x="-3.8" y="-14.4" width="5.4" height="20.4" fill="#f4f4f4"/></g><rect x="3.5" y="-7.6" width="6.7" height="6.1" fill="#5f5f5f"/><rect x="-14.1" y="9.3" width="6.3" height="4.7" fill="#5f5f5f"/><rect x="3.0" y="7.4" width="6.4" height="5.6" fill="#5f5f5f"/><rect x="-12.7" y="-21.6" width="5.5" height="6.0" fill="#5f5f5f"/><rect x="-11.6" y="-7.2" width="6.0" height="5.9" fill="#5f5f5f"/></g></g>
<polygon points="728,571 746,544 762,547 779,587 768,596 740,586" fill="none" stroke="#9e4d6e" stroke-width="2.2" stroke-linejoin="round"/>
<g clip-path="url(#c38)"><polygon points="779,555 790,547 819,574 808,586 793,595 783,586" fill="url(#mg)"/><g transform="translate(794.4,576.1) rotate(81.2)"><g filter="url(#sh)"><rect x="0.4" y="-14.0" width="18.4" height="4.9" fill="#f4f4f4"/><rect x="0.4" y="-0.5" width="18.4" height="4.9" fill="#f4f4f4"/><rect x="0.4" y="-14.0" width="4.9" height="18.4" fill="#f4f4f4"/><rect x="13.9" y="-14.0" width="4.9" height="18.4" fill="#f4f4f4"/><rect x="-25.6" y="-8.3" width="18.4" height="4.9" fill="#f2f2f2"/><rect x="8.2" y="-1.5" width="4.9" height="18.4" fill="#f2f2f2"/><rect x="-12.1" y="-8.3" width="18.4" height="4.9" fill="#f2f2f2"/></g><rect x="6.9" y="-7.9" width="5.2" height="6.0" fill="#5f5f5f"/></g><g transform="translate(795.3,573.8) rotate(37.6)"><g filter="url(#sh)"><rect x="1.1" y="-4.2" width="20.4" height="5.4" fill="#f4f4f4"/><rect x="1.1" y="10.8" width="20.4" height="5.4" fill="#f4f4f4"/><rect x="1.1" y="-4.2" width="5.4" height="20.4" fill="#f4f4f4"/><rect x="16.1" y="-4.2" width="5.4" height="20.4" fill="#f4f4f4"/><rect x="0.1" y="-12.9" width="20.4" height="5.4" fill="#f2f2f2"/></g><rect x="9.0" y="2.8" width="4.6" height="6.4" fill="#5f5f5f"/></g></g>
<polygon points="779,555 790,547 819,574 808,586 793,595 783,586" fill="none" stroke="#9e4d6e" stroke-width="2.2" stroke-linejoin="round"/>
<g clip-path="url(#c39)"><polygon points="834,558 841,539 849,533 880,552 877,567 839,568" fill="url(#mg)"/><g transform="translate(855.8,554.3) rotate(119.5)"><g filter="url(#sh)"><rect x="-18.0" y="-1.3" width="18.4" height="4.9" fill="#f2f2f2"/><rect x="-11.2" y="5.5" width="4.9" height="18.4" fill="#f2f2f2"/><rect x="-4.5" y="12.2" width="18.4" height="4.9" fill="#f2f2f2"/><rect x="2.3" y="-21.5" width="4.9" height="18.4" fill="#f2f2f2"/><rect x="-4.5" y="-1.3" width="18.4" height="4.9" fill="#f2f2f2"/></g></g><g transform="translate(853.3,552.8) rotate(76.6)"><g filter="url(#sh)"><rect x="-9.2" y="-19.3" width="20.4" height="5.4" fill="#f4f4f4"/><rect x="-9.2" y="-4.3" width="20.4" height="5.4" fill="#f4f4f4"/><rect x="-9.2" y="-19.3" width="5.4" height="20.4" fill="#f4f4f4"/><rect x="5.8" y="-19.3" width="5.4" height="20.4" fill="#f4f4f4"/><rect x="-10.2" y="-3.6" width="20.4" height="5.4" fill="#f4f4f4"/><rect x="-10.2" y="11.4" width="20.4" height="5.4" fill="#f4f4f4"/><rect x="-10.2" y="-3.6" width="5.4" height="20.4" fill="#f4f4f4"/><rect x="4.8" y="-3.6" width="5.4" height="20.4" fill="#f4f4f4"/></g><rect x="-1.9" y="-11.6" width="5.8" height="4.9" fill="#5f5f5f"/><rect x="-2.7" y="3.7" width="5.3" height="5.8" fill="#5f5f5f"/></g></g>
<polygon points="834,558 841,539 849,533 880,552 877,567 839,568" fill="none" stroke="#9e4d6e" stroke-width="2.2" stroke-linejoin="round"/>
<g clip-path="url(#c40)"><polygon points="836,598 843,589 889,614 886,624 861,642 849,639" fill="url(#mg)"/><g transform="translate(860.8,614.9) rotate(57.3)"><g filter="url(#sh)"><rect x="4.3" y="2.6" width="18.4" height="4.9" fill="#f2f2f2"/><rect x="4.3" y="16.1" width="18.4" height="4.9" fill="#f2f2f2"/><rect x="5.8" y="-30.0" width="18.4" height="4.9" fill="#f4f4f4"/><rect x="5.8" y="-16.5" width="18.4" height="4.9" fill="#f4f4f4"/><rect x="5.8" y="-30.0" width="4.9" height="18.4" fill="#f4f4f4"/><rect x="19.3" y="-30.0" width="4.9" height="18.4" fill="#f4f4f4"/><rect x="-29.5" y="-4.1" width="4.9" height="18.4" fill="#f2f2f2"/><rect x="-2.5" y="-4.1" width="4.9" height="18.4" fill="#f2f2f2"/></g><rect x="12.4" y="-23.5" width="5.0" height="5.2" fill="#5f5f5f"/></g><g transform="translate(860.7,617.7) rotate(36.2)"><g filter="url(#sh)"><rect x="-7.8" y="-11.0" width="20.4" height="5.4" fill="#f4f4f4"/><rect x="-7.8" y="4.0" width="20.4" height="5.4" fill="#f4f4f4"/><rect x="-7.8" y="-11.0" width="5.4" height="20.4" fill="#f4f4f4"/><rect x="7.2" y="-11.0" width="5.4" height="20.4" fill="#f4f4f4"/><rect x="1.1" y="5.4" width="5.4" height="20.4" fill="#f2f2f2"/></g><rect x="-0.3" y="-3.9" width="5.3" height="6.1" fill="#5f5f5f"/></g></g>
<polygon points="836,598 843,589 889,614 886,624 861,642 849,639" fill="none" stroke="#9e4d6e" stroke-width="2.2" stroke-linejoin="round"/>
<g clip-path="url(#c41)"><polygon points="868,650 874,641 895,624 907,627 916,663 905,672 873,661" fill="url(#mg)"/><g transform="translate(892.3,651.7) rotate(115.3)"><g filter="url(#sh)"><rect x="-8.0" y="15.4" width="18.4" height="4.9" fill="#f2f2f2"/><rect x="-1.2" y="-31.9" width="4.9" height="18.4" fill="#f2f2f2"/><rect x="-7.8" y="-6.3" width="18.4" height="4.9" fill="#f4f4f4"/><rect x="-7.8" y="7.2" width="18.4" height="4.9" fill="#f4f4f4"/><rect x="-7.8" y="-6.3" width="4.9" height="18.4" fill="#f4f4f4"/><rect x="5.7" y="-6.3" width="4.9" height="18.4" fill="#f4f4f4"/><rect x="-14.7" y="-18.4" width="4.9" height="18.4" fill="#f2f2f2"/></g><rect x="-1.6" y="0.6" width="5.9" height="4.6" fill="#5f5f5f"/></g><g transform="translate(891.1,648.3) rotate(77.7)"><g filter="url(#sh)"><rect x="-15.3" y="-3.9" width="20.4" height="5.4" fill="#f4f4f4"/><rect x="-15.3" y="11.1" width="20.4" height="5.4" fill="#f4f4f4"/><rect x="-15.3" y="-3.9" width="5.4" height="20.4" fill="#f4f4f4"/><rect x="-0.3" y="-3.9" width="5.4" height="20.4" fill="#f4f4f4"/><rect x="8.7" y="-17.9" width="5.4" height="20.4" fill="#f2f2f2"/><rect x="-13.8" y="-10.4" width="20.4" height="5.4" fill="#f2f2f2"/></g><rect x="-8.1" y="3.4" width="6.2" height="5.8" fill="#5f5f5f"/></g></g>
<polygon points="868,650 874,641 895,624 907,627 916,663 905,672 873,661" fill="none" stroke="#9e4d6e" stroke-width="2.2" stroke-linejoin="round"/>
<g clip-path="url(#c42)"><polygon points="915,627 924,618 966,631 969,642 938,667 926,663" fill="url(#mg)"/><g transform="translate(938.7,640.4) rotate(66.1)"><g filter="url(#sh)"><rect x="-11.4" y="2.8" width="18.4" height="4.9" fill="#f4f4f4"/><rect x="-11.4" y="16.3" width="18.4" height="4.9" fill="#f4f4f4"/><rect x="-11.4" y="2.8" width="4.9" height="18.4" fill="#f4f4f4"/><rect x="2.1" y="2.8" width="4.9" height="18.4" fill="#f4f4f4"/><rect x="1.7" y="9.9" width="18.4" height="4.9" fill="#f2f2f2"/><rect x="-23.9" y="2.6" width="18.4" height="4.9" fill="#f4f4f4"/><rect x="-23.9" y="16.1" width="18.4" height="4.9" fill="#f4f4f4"/><rect x="-23.9" y="2.6" width="4.9" height="18.4" fill="#f4f4f4"/><rect x="-10.4" y="2.6" width="4.9" height="18.4" fill="#f4f4f4"/><rect x="1.7" y="-17.1" width="18.4" height="4.9" fill="#f2f2f2"/><rect x="-25.3" y="-3.6" width="18.4" height="4.9" fill="#f2f2f2"/></g><rect x="-5.0" y="9.1" width="5.6" height="5.6" fill="#5f5f5f"/><rect x="-16.9" y="9.7" width="4.5" height="4.3" fill="#5f5f5f"/></g><g transform="translate(939.7,641.3) rotate(35.1)"><g filter="url(#sh)"><rect x="-27.9" y="-19.3" width="20.4" height="5.4" fill="#f4f4f4"/><rect x="-27.9" y="-4.3" width="20.4" height="5.4" fill="#f4f4f4"/><rect x="-27.9" y="-19.3" width="5.4" height="20.4" fill="#f4f4f4"/><rect x="-12.9" y="-19.3" width="5.4" height="20.4" fill="#f4f4f4"/><rect x="-11.9" y="-4.2" width="20.4" height="5.4" fill="#f4f4f4"/><rect x="-11.9" y="10.8" width="20.4" height="5.4" fill="#f4f4f4"/><rect x="-11.9" y="-4.2" width="5.4" height="20.4" fill="#f4f4f4"/><rect x="3.1" y="-4.2" width="5.4" height="20.4" fill="#f4f4f4"/><rect x="-10.7" y="-18.1" width="20.4" height="5.4" fill="#f4f4f4"/><rect x="-10.7" y="-3.1" width="20.4" height="5.4" fill="#f4f4f4"/><rect x="-10.7" y="-18.1" width="5.4" height="20.4" fill="#f4f4f4"/><rect x="4.3" y="-18.1" width="5.4" height="20.4" fill="#f4f4f4"/></g><rect x="-20.9" y="-11.7" width="6.4" height="5.3" fill="#5f5f5f"/><rect x="-5.0" y="3.7" width="6.5" height="4.8" fill="#5f5f5f"/><rect x="-3.0" y="-10.7" width="5.0" height="5.6" fill="#5f5f5f"/></g></g>
<polygon points="915,627 924,618 966,631 969,642 938,667 926,663" fill="none" stroke="#9e4d6e" stroke-width="2.2" stroke-linejoin="round"/>
<g clip-path="url(#c43)"><polygon points="950,672 956,663 982,648 991,651 996,678 985,687 953,679" fill="url(#mg)"/><g transform="translate(971.3,665.9) rotate(54.9)"><g filter="url(#sh)"><rect x="4.2" y="-16.0" width="18.4" height="4.9" fill="#f2f2f2"/><rect x="-8.9" y="-22.9" width="18.4" height="4.9" fill="#f4f4f4"/><rect x="-8.9" y="-9.4" width="18.4" height="4.9" fill="#f4f4f4"/><rect x="-8.9" y="-22.9" width="4.9" height="18.4" fill="#f4f4f4"/><rect x="4.6" y="-22.9" width="4.9" height="18.4" fill="#f4f4f4"/><rect x="-2.6" y="-9.2" width="4.9" height="18.4" fill="#f2f2f2"/></g><rect x="-2.2" y="-16.2" width="5.1" height="5.1" fill="#5f5f5f"/></g><g transform="translate(973.3,668.3) rotate(25.8)"><g filter="url(#sh)"><rect x="-11.3" y="-21.6" width="20.4" height="5.4" fill="#f4f4f4"/><rect x="-11.3" y="-6.6" width="20.4" height="5.4" fill="#f4f4f4"/><rect x="-11.3" y="-21.6" width="5.4" height="20.4" fill="#f4f4f4"/><rect x="3.7" y="-21.6" width="5.4" height="20.4" fill="#f4f4f4"/><rect x="4.0" y="1.6" width="20.4" height="5.4" fill="#f2f2f2"/><rect x="-10.7" y="-4.9" width="20.4" height="5.4" fill="#f4f4f4"/><rect x="-10.7" y="10.1" width="20.4" height="5.4" fill="#f4f4f4"/><rect x="-10.7" y="-4.9" width="5.4" height="20.4" fill="#f4f4f4"/><rect x="4.3" y="-4.9" width="5.4" height="20.4" fill="#f4f4f4"/></g><rect x="-3.6" y="-14.6" width="4.9" height="6.4" fill="#5f5f5f"/><rect x="-3.8" y="2.2" width="6.5" height="6.1" fill="#5f5f5f"/></g></g>
<polygon points="950,672 956,663 982,648 991,651 996,678 985,687 953,679" fill="none" stroke="#9e4d6e" stroke-width="2.2" stroke-linejoin="round"/>
<g clip-path="url(#c44)"><polygon points="57,222 62,211 98,208 103,218 89,244 76,245" fill="url(#mg)"/><g transform="translate(78.2,221.8) rotate(105.3)"><g filter="url(#sh)"><rect x="6.1" y="-20.1" width="4.9" height="18.4" fill="#f2f2f2"/><rect x="-14.2" y="0.2" width="18.4" height="4.9" fill="#f2f2f2"/><rect x="-7.4" y="6.9" width="4.9" height="18.4" fill="#f2f2f2"/></g></g><g transform="translate(80.8,224.7) rotate(68.5)"><g filter="url(#sh)"><rect x="-10.5" y="-24.6" width="20.4" height="5.4" fill="#f4f4f4"/><rect x="-10.5" y="-9.6" width="20.4" height="5.4" fill="#f4f4f4"/><rect x="-10.5" y="-24.6" width="5.4" height="20.4" fill="#f4f4f4"/><rect x="4.5" y="-24.6" width="5.4" height="20.4" fill="#f4f4f4"/><rect x="4.6" y="-8.6" width="20.4" height="5.4" fill="#f4f4f4"/><rect x="4.6" y="6.4" width="20.4" height="5.4" fill="#f4f4f4"/><rect x="4.6" y="-8.6" width="5.4" height="20.4" fill="#f4f4f4"/><rect x="19.6" y="-8.6" width="5.4" height="20.4" fill="#f4f4f4"/></g><rect x="-3.2" y="-17.8" width="5.8" height="6.7" fill="#5f5f5f"/><rect x="11.6" y="-1.1" width="6.4" height="5.3" fill="#5f5f5f"/></g></g>
<polygon points="57,222 62,211 98,208 103,218 89,244 76,245" fill="none" stroke="#9e4d6e" stroke-width="2.2" stroke-linejoin="round"/>
<g clip-path="url(#c45)"><polygon points="98,245 106,225 125,223 136,245 131,257 103,257" fill="url(#mg)"/><g transform="translate(113.1,240.9) rotate(113.3)"><g filter="url(#sh)"><rect x="-11.5" y="-17.1" width="18.4" height="4.9" fill="#f2f2f2"/><rect x="-11.5" y="-3.6" width="18.4" height="4.9" fill="#f2f2f2"/></g></g><g transform="translate(116.5,242.0) rotate(87.2)"><g filter="url(#sh)"><rect x="-9.2" y="-22.1" width="20.4" height="5.4" fill="#f4f4f4"/><rect x="-9.2" y="-7.1" width="20.4" height="5.4" fill="#f4f4f4"/><rect x="-9.2" y="-22.1" width="5.4" height="20.4" fill="#f4f4f4"/><rect x="5.8" y="-22.1" width="5.4" height="20.4" fill="#f4f4f4"/><rect x="-6.9" y="-5.8" width="20.4" height="5.4" fill="#f4f4f4"/><rect x="-6.9" y="9.2" width="20.4" height="5.4" fill="#f4f4f4"/><rect x="-6.9" y="-5.8" width="5.4" height="20.4" fill="#f4f4f4"/><rect x="8.1" y="-5.8" width="5.4" height="20.4" fill="#f4f4f4"/><rect x="-23.2" y="1.0" width="20.4" height="5.4" fill="#f2f2f2"/></g><rect x="-1.9" y="-15.2" width="5.7" height="6.6" fill="#5f5f5f"/><rect x="0.8" y="1.2" width="5.1" height="6.4" fill="#5f5f5f"/></g></g>
<polygon points="98,245 106,225 125,223 136,245 131,257 103,257" fill="none" stroke="#9e4d6e" stroke-width="2.2" stroke-linejoin="round"/>
<g clip-path="url(#c46)"><polygon points="89,271 96,266 124,267 130,279 118,300 106,306 93,300" fill="url(#mg)"/><g transform="translate(107.6,282.9) rotate(43.8)"><g filter="url(#sh)"><rect x="-19.1" y="-5.4" width="18.4" height="4.9" fill="#f4f4f4"/><rect x="-19.1" y="8.1" width="18.4" height="4.9" fill="#f4f4f4"/><rect x="-19.1" y="-5.4" width="4.9" height="18.4" fill="#f4f4f4"/><rect x="-5.6" y="-5.4" width="4.9" height="18.4" fill="#f4f4f4"/><rect x="-6.8" y="14.8" width="18.4" height="4.9" fill="#f2f2f2"/><rect x="-13.5" y="-19.0" width="4.9" height="18.4" fill="#f2f2f2"/><rect x="-6.4" y="-18.4" width="18.4" height="4.9" fill="#f4f4f4"/><rect x="-6.4" y="-4.9" width="18.4" height="4.9" fill="#f4f4f4"/><rect x="-6.4" y="-18.4" width="4.9" height="18.4" fill="#f4f4f4"/><rect x="7.1" y="-18.4" width="4.9" height="18.4" fill="#f4f4f4"/><rect x="8.1" y="-6.8" width="18.4" height="4.9" fill="#f4f4f4"/><rect x="8.1" y="6.7" width="18.4" height="4.9" fill="#f4f4f4"/><rect x="8.1" y="-6.8" width="4.9" height="18.4" fill="#f4f4f4"/><rect x="21.6" y="-6.8" width="4.9" height="18.4" fill="#f4f4f4"/></g><rect x="-12.2" y="1.6" width="4.5" height="4.5" fill="#5f5f5f"/><rect x="0.2" y="-11.9" width="5.3" height="5.3" fill="#5f5f5f"/><rect x="14.9" y="-0.1" width="4.8" height="4.9" fill="#5f5f5f"/></g><g transform="translate(108.0,284.1) rotate(21.5)"><g filter="url(#sh)"><rect x="-13.4" y="-13.9" width="20.4" height="5.4" fill="#f4f4f4"/><rect x="-13.4" y="1.1" width="20.4" height="5.4" fill="#f4f4f4"/><rect x="-13.4" y="-13.9" width="5.4" height="20.4" fill="#f4f4f4"/><rect x="1.6" y="-13.9" width="5.4" height="20.4" fill="#f4f4f4"/><rect x="0.3" y="-12.2" width="20.4" height="5.4" fill="#f4f4f4"/><rect x="0.3" y="2.8" width="20.4" height="5.4" fill="#f4f4f4"/><rect x="0.3" y="-12.2" width="5.4" height="20.4" fill="#f4f4f4"/><rect x="15.3" y="-12.2" width="5.4" height="20.4" fill="#f4f4f4"/></g><rect x="-6.1" y="-7.0" width="5.7" height="6.7" fill="#5f5f5f"/><rect x="7.8" y="-4.8" width="5.3" height="5.7" fill="#5f5f5f"/></g></g>
<polygon points="89,271 96,266 124,267 130,279 118,300 106,306 93,300" fill="none" stroke="#9e4d6e" stroke-width="2.2" stroke-linejoin="round"/>
<g clip-path="url(#c47)"><polygon points="163,269 168,257 187,249 198,254 195,283 181,291" fill="url(#mg)"/><g transform="translate(181.5,267.2) rotate(26.8)"><g filter="url(#sh)"><rect x="-6.9" y="3.2" width="18.4" height="4.9" fill="#f4f4f4"/><rect x="-6.9" y="16.7" width="18.4" height="4.9" fill="#f4f4f4"/><rect x="-6.9" y="3.2" width="4.9" height="18.4" fill="#f4f4f4"/><rect x="6.6" y="3.2" width="4.9" height="18.4" fill="#f4f4f4"/></g><rect x="-0.4" y="10.1" width="5.4" height="4.6" fill="#5f5f5f"/></g><g transform="translate(182.0,267.2) rotate(6.2)"><g filter="url(#sh)"><rect x="-2.0" y="-11.5" width="20.4" height="5.4" fill="#f4f4f4"/><rect x="-2.0" y="3.5" width="20.4" height="5.4" fill="#f4f4f4"/><rect x="-2.0" y="-11.5" width="5.4" height="20.4" fill="#f4f4f4"/><rect x="13.0" y="-11.5" width="5.4" height="20.4" fill="#f4f4f4"/><rect x="-16.6" y="-12.5" width="20.4" height="5.4" fill="#f4f4f4"/><rect x="-16.6" y="2.5" width="20.4" height="5.4" fill="#f4f4f4"/><rect x="-16.6" y="-12.5" width="5.4" height="20.4" fill="#f4f4f4"/><rect x="-1.6" y="-12.5" width="5.4" height="20.4" fill="#f4f4f4"/></g><rect x="4.9" y="-3.9" width="6.6" height="5.1" fill="#5f5f5f"/><rect x="-9.3" y="-5.6" width="5.8" height="6.7" fill="#5f5f5f"/></g></g>
<polygon points="163,269 168,257 187,249 198,254 195,283 181,291" fill="none" stroke="#9e4d6e" stroke-width="2.2" stroke-linejoin="round"/>
<g clip-path="url(#c48)"><polygon points="150,294 155,288 165,285 180,304 179,314 156,322" fill="url(#mg)"/><g transform="translate(162.3,300.9) rotate(79.6)"><g filter="url(#sh)"><rect x="-20.7" y="-0.8" width="18.4" height="4.9" fill="#f2f2f2"/><rect x="-7.2" y="-14.3" width="18.4" height="4.9" fill="#f2f2f2"/></g></g><g transform="translate(164.2,301.2) rotate(46.2)"><g filter="url(#sh)"><rect x="-14.1" y="-7.0" width="20.4" height="5.4" fill="#f4f4f4"/><rect x="-14.1" y="8.0" width="20.4" height="5.4" fill="#f4f4f4"/><rect x="-14.1" y="-7.0" width="5.4" height="20.4" fill="#f4f4f4"/><rect x="0.9" y="-7.0" width="5.4" height="20.4" fill="#f4f4f4"/><rect x="0.2" y="0.6" width="20.4" height="5.4" fill="#f2f2f2"/></g><rect x="-6.8" y="0.3" width="5.7" height="5.9" fill="#5f5f5f"/></g></g>
<polygon points="150,294 155,288 165,285 180,304 179,314 156,322" fill="none" stroke="#9e4d6e" stroke-width="2.2" stroke-linejoin="round"/>
<g clip-path="url(#c49)"><polygon points="158,343 165,329 182,323 192,329 193,359 181,366 168,357" fill="url(#mg)"/><g transform="translate(174.8,343.8) rotate(51.4)"><g filter="url(#sh)"><rect x="-14.8" y="-2.3" width="18.4" height="4.9" fill="#f2f2f2"/><rect x="5.5" y="-9.0" width="4.9" height="18.4" fill="#f2f2f2"/><rect x="-14.8" y="-15.8" width="18.4" height="4.9" fill="#f2f2f2"/><rect x="-1.1" y="-22.2" width="18.4" height="4.9" fill="#f4f4f4"/><rect x="-1.1" y="-8.7" width="18.4" height="4.9" fill="#f4f4f4"/><rect x="-1.1" y="-22.2" width="4.9" height="18.4" fill="#f4f4f4"/><rect x="12.4" y="-22.2" width="4.9" height="18.4" fill="#f4f4f4"/></g><rect x="5.7" y="-15.7" width="4.8" height="5.4" fill="#5f5f5f"/></g><g transform="translate(177.0,343.7) rotate(21.8)"><g filter="url(#sh)"><rect x="-1.0" y="2.8" width="20.4" height="5.4" fill="#f4f4f4"/><rect x="-1.0" y="17.8" width="20.4" height="5.4" fill="#f4f4f4"/><rect x="-1.0" y="2.8" width="5.4" height="20.4" fill="#f4f4f4"/><rect x="14.0" y="2.8" width="5.4" height="20.4" fill="#f4f4f4"/><rect x="-17.4" y="-5.2" width="20.4" height="5.4" fill="#f2f2f2"/><rect x="-2.1" y="-13.4" width="20.4" height="5.4" fill="#f4f4f4"/><rect x="-2.1" y="1.6" width="20.4" height="5.4" fill="#f4f4f4"/><rect x="-2.1" y="-13.4" width="5.4" height="20.4" fill="#f4f4f4"/><rect x="12.9" y="-13.4" width="5.4" height="20.4" fill="#f4f4f4"/></g><rect x="5.9" y="10.3" width="6.6" height="5.4" fill="#5f5f5f"/><rect x="4.9" y="-5.5" width="6.4" height="4.7" fill="#5f5f5f"/></g></g>
<polygon points="158,343 165,329 182,323 192,329 193,359 181,366 168,357" fill="none" stroke="#9e4d6e" stroke-width="2.2" stroke-linejoin="round"/>
<g clip-path="url(#c50)"><polygon points="143,365 153,357 180,378 177,394 147,397" fill="url(#mg)"/><g transform="translate(163.4,382.2) rotate(103.8)"><g filter="url(#sh)"><rect x="0.1" y="-13.9" width="18.4" height="4.9" fill="#f4f4f4"/><rect x="0.1" y="-0.4" width="18.4" height="4.9" fill="#f4f4f4"/><rect x="0.1" y="-13.9" width="4.9" height="18.4" fill="#f4f4f4"/><rect x="13.6" y="-13.9" width="4.9" height="18.4" fill="#f4f4f4"/><rect x="-14.2" y="-7.4" width="18.4" height="4.9" fill="#f2f2f2"/></g><rect x="6.8" y="-7.7" width="5.1" height="6.0" fill="#5f5f5f"/></g><g transform="translate(160.0,378.2) rotate(77.1)"><g filter="url(#sh)"><rect x="-16.5" y="-4.9" width="20.4" height="5.4" fill="#f4f4f4"/><rect x="-16.5" y="10.1" width="20.4" height="5.4" fill="#f4f4f4"/><rect x="-16.5" y="-4.9" width="5.4" height="20.4" fill="#f4f4f4"/><rect x="-1.5" y="-4.9" width="5.4" height="20.4" fill="#f4f4f4"/><rect x="-1.1" y="3.0" width="20.4" height="5.4" fill="#f2f2f2"/><rect x="6.4" y="-19.5" width="5.4" height="20.4" fill="#f2f2f2"/></g><rect x="-9.2" y="2.3" width="5.7" height="5.8" fill="#5f5f5f"/></g></g>
<polygon points="143,365 153,357 180,378 177,394 147,397" fill="none" stroke="#9e4d6e" stroke-width="2.2" stroke-linejoin="round"/>
<g clip-path="url(#c51)"><polygon points="155,414 161,404 185,399 195,405 193,434 183,443 170,434" fill="url(#mg)"/><g transform="translate(175.8,419.3) rotate(74.3)"><g filter="url(#sh)"><rect x="3.5" y="-17.6" width="4.9" height="18.4" fill="#f2f2f2"/><rect x="-16.8" y="2.7" width="18.4" height="4.9" fill="#f2f2f2"/></g></g><g transform="translate(177.4,419.0) rotate(34.3)"><g filter="url(#sh)"><rect x="3.6" y="-10.6" width="20.4" height="5.4" fill="#f4f4f4"/><rect x="3.6" y="4.4" width="20.4" height="5.4" fill="#f4f4f4"/><rect x="3.6" y="-10.6" width="5.4" height="20.4" fill="#f4f4f4"/><rect x="18.6" y="-10.6" width="5.4" height="20.4" fill="#f4f4f4"/><rect x="-11.5" y="-17.5" width="20.4" height="5.4" fill="#f2f2f2"/><rect x="-26.5" y="-2.5" width="20.4" height="5.4" fill="#f2f2f2"/></g><rect x="10.8" y="-3.1" width="5.9" height="5.5" fill="#5f5f5f"/></g></g>
<polygon points="155,414 161,404 185,399 195,405 193,434 183,443 170,434" fill="none" stroke="#9e4d6e" stroke-width="2.2" stroke-linejoin="round"/>
<g clip-path="url(#c52)"><polygon points="202,412 209,403 243,417 246,432 230,444 210,450 202,423" fill="url(#mg)"/><g transform="translate(219.9,421.9) rotate(82.6)"><g filter="url(#sh)"><rect x="-6.1" y="-10.4" width="18.4" height="4.9" fill="#f2f2f2"/><rect x="14.2" y="-3.7" width="4.9" height="18.4" fill="#f2f2f2"/><rect x="-12.8" y="-3.7" width="4.9" height="18.4" fill="#f2f2f2"/><rect x="-6.1" y="3.1" width="18.4" height="4.9" fill="#f2f2f2"/></g></g><g transform="translate(220.3,425.9) rotate(60.9)"><g filter="url(#sh)"><rect x="3.2" y="-1.0" width="20.4" height="5.4" fill="#f4f4f4"/><rect x="3.2" y="14.0" width="20.4" height="5.4" fill="#f4f4f4"/><rect x="3.2" y="-1.0" width="5.4" height="20.4" fill="#f4f4f4"/><rect x="18.2" y="-1.0" width="5.4" height="20.4" fill="#f4f4f4"/><rect x="-13.4" y="-2.5" width="20.4" height="5.4" fill="#f4f4f4"/><rect x="-13.4" y="12.5" width="20.4" height="5.4" fill="#f4f4f4"/><rect x="-13.4" y="-2.5" width="5.4" height="20.4" fill="#f4f4f4"/><rect x="1.6" y="-2.5" width="5.4" height="20.4" fill="#f4f4f4"/><rect x="2.6" y="-17.2" width="20.4" height="5.4" fill="#f4f4f4"/><rect x="2.6" y="-2.2" width="20.4" height="5.4" fill="#f4f4f4"/><rect x="2.6" y="-17.2" width="5.4" height="20.4" fill="#f4f4f4"/><rect x="17.6" y="-17.2" width="5.4" height="20.4" fill="#f4f4f4"/><rect x="-12.8" y="-10.0" width="20.4" height="5.4" fill="#f2f2f2"/></g><rect x="10.1" y="6.4" width="6.5" height="5.4" fill="#5f5f5f"/><rect x="-6.1" y="5.3" width="5.6" height="4.9" fill="#5f5f5f"/><rect x="10.1" y="-10.4" width="5.3" height="6.7" fill="#5f5f5f"/></g></g>
<polygon points="202,412 209,403 243,417 246,432 230,444 210,450 202,423" fill="none" stroke="#9e4d6e" stroke-width="2.2" stroke-linejoin="round"/>
<g clip-path="url(#c53)"><polygon points="130,445 138,426 147,426 175,449 178,460 164,465 132,469" fill="url(#mg)"/><g transform="translate(154.3,447.0) rotate(74.3)"><g filter="url(#sh)"><rect x="-9.1" y="-11.8" width="18.4" height="4.9" fill="#f2f2f2"/><rect x="-9.1" y="15.2" width="18.4" height="4.9" fill="#f2f2f2"/><rect x="-2.4" y="-5.1" width="4.9" height="18.4" fill="#f2f2f2"/><rect x="4.4" y="-11.8" width="18.4" height="4.9" fill="#f2f2f2"/><rect x="-23.7" y="-4.3" width="18.4" height="4.9" fill="#f4f4f4"/><rect x="-23.7" y="9.2" width="18.4" height="4.9" fill="#f4f4f4"/><rect x="-23.7" y="-4.3" width="4.9" height="18.4" fill="#f4f4f4"/><rect x="-10.2" y="-4.3" width="4.9" height="18.4" fill="#f4f4f4"/><rect x="11.1" y="8.4" width="4.9" height="18.4" fill="#f2f2f2"/></g><rect x="-16.6" y="2.8" width="4.3" height="4.3" fill="#5f5f5f"/></g><g transform="translate(152.0,448.6) rotate(37.0)"><g filter="url(#sh)"><rect x="-12.6" y="-17.1" width="20.4" height="5.4" fill="#f4f4f4"/><rect x="-12.6" y="-2.1" width="20.4" height="5.4" fill="#f4f4f4"/><rect x="-12.6" y="-17.1" width="5.4" height="20.4" fill="#f4f4f4"/><rect x="2.4" y="-17.1" width="5.4" height="20.4" fill="#f4f4f4"/><rect x="2.5" y="-14.9" width="20.4" height="5.4" fill="#f4f4f4"/><rect x="2.5" y="0.1" width="20.4" height="5.4" fill="#f4f4f4"/><rect x="2.5" y="-14.9" width="5.4" height="20.4" fill="#f4f4f4"/><rect x="17.5" y="-14.9" width="5.4" height="20.4" fill="#f4f4f4"/><rect x="-12.5" y="-2.4" width="20.4" height="5.4" fill="#f4f4f4"/><rect x="-12.5" y="12.6" width="20.4" height="5.4" fill="#f4f4f4"/><rect x="-12.5" y="-2.4" width="5.4" height="20.4" fill="#f4f4f4"/><rect x="2.5" y="-2.4" width="5.4" height="20.4" fill="#f4f4f4"/></g><rect x="-4.9" y="-9.4" width="5.0" height="5.1" fill="#5f5f5f"/><rect x="9.4" y="-7.0" width="6.6" height="4.6" fill="#5f5f5f"/><rect x="-4.8" y="5.1" width="5.0" height="5.4" fill="#5f5f5f"/></g></g>
<polygon points="130,445 138,426 147,426 175,449 178,460 164,465 132,469" fill="none" stroke="#9e4d6e" stroke-width="2.2" stroke-linejoin="round"/>
<g clip-path="url(#c54)"><polygon points="216,462 224,453 255,444 259,462 247,487 241,489 218,474" fill="url(#mg)"/><g transform="translate(233.6,465.2) rotate(29.5)"><g filter="url(#sh)"><rect x="-0.3" y="-1.3" width="4.9" height="18.4" fill="#f2f2f2"/><rect x="13.2" y="-14.8" width="4.9" height="18.4" fill="#f2f2f2"/><rect x="6.5" y="5.5" width="18.4" height="4.9" fill="#f2f2f2"/><rect x="-20.5" y="-8.0" width="18.4" height="4.9" fill="#f2f2f2"/><rect x="-13.8" y="-1.3" width="4.9" height="18.4" fill="#f2f2f2"/></g></g><g transform="translate(237.1,467.3) rotate(4.0)"><g filter="url(#sh)"><rect x="-20.1" y="-8.2" width="20.4" height="5.4" fill="#f4f4f4"/><rect x="-20.1" y="6.8" width="20.4" height="5.4" fill="#f4f4f4"/><rect x="-20.1" y="-8.2" width="5.4" height="20.4" fill="#f4f4f4"/><rect x="-5.1" y="-8.2" width="5.4" height="20.4" fill="#f4f4f4"/><rect x="-6.5" y="-0.1" width="20.4" height="5.4" fill="#f2f2f2"/><rect x="-6.5" y="-15.1" width="20.4" height="5.4" fill="#f2f2f2"/></g><rect x="-12.8" y="-0.4" width="5.8" height="4.8" fill="#5f5f5f"/></g></g>
<polygon points="216,462 224,453 255,444 259,462 247,487 241,489 218,474" fill="none" stroke="#9e4d6e" stroke-width="2.2" stroke-linejoin="round"/>
<g clip-path="url(#c55)"><polygon points="262,471 268,443 280,441 308,459 310,468 292,484 268,491" fill="url(#mg)"/><g transform="translate(286.6,464.1) rotate(37.2)"><g filter="url(#sh)"><rect x="-6.6" y="1.4" width="18.4" height="4.9" fill="#f2f2f2"/><rect x="13.7" y="-18.9" width="4.9" height="18.4" fill="#f2f2f2"/><rect x="-6.6" y="14.9" width="18.4" height="4.9" fill="#f2f2f2"/><rect x="-20.1" y="-12.1" width="18.4" height="4.9" fill="#f2f2f2"/><rect x="6.9" y="1.4" width="18.4" height="4.9" fill="#f2f2f2"/><rect x="0.2" y="-18.9" width="4.9" height="18.4" fill="#f2f2f2"/></g></g><g transform="translate(284.0,465.3) rotate(11.1)"><g filter="url(#sh)"><rect x="-4.4" y="-16.6" width="20.4" height="5.4" fill="#f4f4f4"/><rect x="-4.4" y="-1.6" width="20.4" height="5.4" fill="#f4f4f4"/><rect x="-4.4" y="-16.6" width="5.4" height="20.4" fill="#f4f4f4"/><rect x="10.6" y="-16.6" width="5.4" height="20.4" fill="#f4f4f4"/><rect x="-20.7" y="-10.6" width="20.4" height="5.4" fill="#f2f2f2"/><rect x="-20.7" y="4.4" width="20.4" height="5.4" fill="#f2f2f2"/></g><rect x="2.9" y="-9.1" width="5.8" height="5.5" fill="#5f5f5f"/></g></g>
<polygon points="262,471 268,443 280,441 308,459 310,468 292,484 268,491" fill="none" stroke="#9e4d6e" stroke-width="2.2" stroke-linejoin="round"/>
<g clip-path="url(#c56)"><polygon points="135,490 142,477 167,474 184,486 175,508 156,517 138,500" fill="url(#mg)"/><g transform="translate(158.1,489.9) rotate(108.9)"><g filter="url(#sh)"><rect x="-12.7" y="7.9" width="18.4" height="4.9" fill="#f2f2f2"/><rect x="7.5" y="1.1" width="4.9" height="18.4" fill="#f2f2f2"/><rect x="7.5" y="-25.9" width="4.9" height="18.4" fill="#f2f2f2"/><rect x="-12.6" y="-12.8" width="18.4" height="4.9" fill="#f4f4f4"/><rect x="-12.6" y="0.7" width="18.4" height="4.9" fill="#f4f4f4"/><rect x="-12.6" y="-12.8" width="4.9" height="18.4" fill="#f4f4f4"/><rect x="0.9" y="-12.8" width="4.9" height="18.4" fill="#f4f4f4"/><rect x="0.2" y="-13.2" width="18.4" height="4.9" fill="#f4f4f4"/><rect x="0.2" y="0.3" width="18.4" height="4.9" fill="#f4f4f4"/><rect x="0.2" y="-13.2" width="4.9" height="18.4" fill="#f4f4f4"/><rect x="13.7" y="-13.2" width="4.9" height="18.4" fill="#f4f4f4"/><rect x="-12.7" y="-19.1" width="18.4" height="4.9" fill="#f2f2f2"/></g><rect x="-5.9" y="-5.9" width="5.1" height="4.7" fill="#5f5f5f"/><rect x="7.2" y="-6.7" width="4.3" height="5.5" fill="#5f5f5f"/></g><g transform="translate(156.7,493.1) rotate(67.6)"><g filter="url(#sh)"><rect x="-11.0" y="1.9" width="20.4" height="5.4" fill="#f4f4f4"/><rect x="-11.0" y="16.9" width="20.4" height="5.4" fill="#f4f4f4"/><rect x="-11.0" y="1.9" width="5.4" height="20.4" fill="#f4f4f4"/><rect x="4.0" y="1.9" width="5.4" height="20.4" fill="#f4f4f4"/><rect x="-4.1" y="-28.6" width="5.4" height="20.4" fill="#f2f2f2"/><rect x="4.5" y="-14.0" width="20.4" height="5.4" fill="#f4f4f4"/><rect x="4.5" y="1.0" width="20.4" height="5.4" fill="#f4f4f4"/><rect x="4.5" y="-14.0" width="5.4" height="20.4" fill="#f4f4f4"/><rect x="19.5" y="-14.0" width="5.4" height="20.4" fill="#f4f4f4"/><rect x="-10.3" y="-12.9" width="20.4" height="5.4" fill="#f4f4f4"/><rect x="-10.3" y="2.1" width="20.4" height="5.4" fill="#f4f4f4"/><rect x="-10.3" y="-12.9" width="5.4" height="20.4" fill="#f4f4f4"/><rect x="4.7" y="-12.9" width="5.4" height="20.4" fill="#f4f4f4"/></g><rect x="-3.5" y="9.4" width="5.3" height="5.4" fill="#5f5f5f"/><rect x="11.7" y="-6.3" width="5.9" height="4.9" fill="#5f5f5f"/><rect x="-3.2" y="-5.0" width="6.1" height="4.6" fill="#5f5f5f"/></g></g>
<polygon points="135,490 142,477 167,474 184,486 175,508 156,517 138,500" fill="none" stroke="#9e4d6e" stroke-width="2.2" stroke-linejoin="round"/>
<g clip-path="url(#c57)"><polygon points="276,506 280,497 317,484 323,489 318,530 305,534 277,515" fill="url(#mg)"/><g transform="translate(296.7,505.4) rotate(31.2)"><g filter="url(#sh)"><rect x="-4.0" y="-1.9" width="18.4" height="4.9" fill="#f2f2f2"/><rect x="-4.0" y="-15.4" width="18.4" height="4.9" fill="#f2f2f2"/><rect x="10.5" y="5.7" width="18.4" height="4.9" fill="#f4f4f4"/><rect x="10.5" y="19.2" width="18.4" height="4.9" fill="#f4f4f4"/><rect x="10.5" y="5.7" width="4.9" height="18.4" fill="#f4f4f4"/><rect x="24.0" y="5.7" width="4.9" height="18.4" fill="#f4f4f4"/><rect x="9.5" y="-1.9" width="18.4" height="4.9" fill="#f2f2f2"/><rect x="9.5" y="-15.4" width="18.4" height="4.9" fill="#f2f2f2"/></g><rect x="17.3" y="12.8" width="4.6" height="4.1" fill="#5f5f5f"/></g><g transform="translate(299.4,507.9) rotate(3.6)"><g filter="url(#sh)"><rect x="-6.3" y="-10.0" width="20.4" height="5.4" fill="#f4f4f4"/><rect x="-6.3" y="5.0" width="20.4" height="5.4" fill="#f4f4f4"/><rect x="-6.3" y="-10.0" width="5.4" height="20.4" fill="#f4f4f4"/><rect x="8.7" y="-10.0" width="5.4" height="20.4" fill="#f4f4f4"/><rect x="-22.0" y="-4.0" width="20.4" height="5.4" fill="#f2f2f2"/></g><rect x="0.9" y="-2.3" width="5.9" height="5.0" fill="#5f5f5f"/></g></g>
<polygon points="276,506 280,497 317,484 323,489 318,530 305,534 277,515" fill="none" stroke="#9e4d6e" stroke-width="2.2" stroke-linejoin="round"/>
<g clip-path="url(#c58)"><polygon points="101,524 113,497 126,496 144,509 142,524 135,531 110,534" fill="url(#mg)"/><g transform="translate(123.2,516.5) rotate(77.0)"><g filter="url(#sh)"><rect x="-11.4" y="-7.5" width="18.4" height="4.9" fill="#f2f2f2"/><rect x="-11.4" y="-21.0" width="18.4" height="4.9" fill="#f2f2f2"/><rect x="-18.1" y="-14.2" width="4.9" height="18.4" fill="#f2f2f2"/><rect x="2.1" y="-7.5" width="18.4" height="4.9" fill="#f2f2f2"/></g></g><g transform="translate(124.4,516.4) rotate(39.8)"><g filter="url(#sh)"><rect x="-11.6" y="-23.2" width="20.4" height="5.4" fill="#f4f4f4"/><rect x="-11.6" y="-8.2" width="20.4" height="5.4" fill="#f4f4f4"/><rect x="-11.6" y="-23.2" width="5.4" height="20.4" fill="#f4f4f4"/><rect x="3.4" y="-23.2" width="5.4" height="20.4" fill="#f4f4f4"/><rect x="-10.7" y="-0.2" width="20.4" height="5.4" fill="#f2f2f2"/></g><rect x="-3.8" y="-16.1" width="4.8" height="6.1" fill="#5f5f5f"/></g></g>
<polygon points="101,524 113,497 126,496 144,509 142,524 135,531 110,534" fill="none" stroke="#9e4d6e" stroke-width="2.2" stroke-linejoin="round"/>
<g clip-path="url(#c59)"><polygon points="182,534 187,527 227,518 236,527 222,548 206,561 184,548" fill="url(#mg)"/><g transform="translate(206.4,537.1) rotate(65.2)"><g filter="url(#sh)"><rect x="2.3" y="-5.1" width="4.9" height="18.4" fill="#f2f2f2"/><rect x="-11.2" y="-18.6" width="4.9" height="18.4" fill="#f2f2f2"/><rect x="-4.4" y="-25.4" width="18.4" height="4.9" fill="#f2f2f2"/><rect x="-5.1" y="7.9" width="18.4" height="4.9" fill="#f4f4f4"/><rect x="-5.1" y="21.4" width="18.4" height="4.9" fill="#f4f4f4"/><rect x="-5.1" y="7.9" width="4.9" height="18.4" fill="#f4f4f4"/><rect x="8.4" y="7.9" width="4.9" height="18.4" fill="#f4f4f4"/><rect x="-4.4" y="-11.9" width="18.4" height="4.9" fill="#f2f2f2"/></g><rect x="1.9" y="15.0" width="4.5" height="4.2" fill="#5f5f5f"/></g><g transform="translate(206.3,537.6) rotate(21.8)"><g filter="url(#sh)"><rect x="-18.9" y="-9.5" width="20.4" height="5.4" fill="#f4f4f4"/><rect x="-18.9" y="5.5" width="20.4" height="5.4" fill="#f4f4f4"/><rect x="-18.9" y="-9.5" width="5.4" height="20.4" fill="#f4f4f4"/><rect x="-3.9" y="-9.5" width="5.4" height="20.4" fill="#f4f4f4"/></g><rect x="-11.0" y="-1.6" width="4.7" height="4.5" fill="#5f5f5f"/></g></g>
<polygon points="182,534 187,527 227,518 236,527 222,548 206,561 184,548" fill="none" stroke="#9e4d6e" stroke-width="2.2" stroke-linejoin="round"/>
<g clip-path="url(#c60)"><polygon points="234,549 255,524 289,531 294,545 287,552 241,563" fill="url(#mg)"/><g transform="translate(268.4,547.8) rotate(41.6)"><g filter="url(#sh)"><rect x="-20.0" y="-15.6" width="18.4" height="4.9" fill="#f4f4f4"/><rect x="-20.0" y="-2.1" width="18.4" height="4.9" fill="#f4f4f4"/><rect x="-20.0" y="-15.6" width="4.9" height="18.4" fill="#f4f4f4"/><rect x="-6.5" y="-15.6" width="4.9" height="18.4" fill="#f4f4f4"/><rect x="-7.7" y="-9.3" width="18.4" height="4.9" fill="#f2f2f2"/><rect x="-21.2" y="17.7" width="18.4" height="4.9" fill="#f2f2f2"/><rect x="-20.4" y="-1.6" width="18.4" height="4.9" fill="#f4f4f4"/><rect x="-20.4" y="11.9" width="18.4" height="4.9" fill="#f4f4f4"/><rect x="-20.4" y="-1.6" width="4.9" height="18.4" fill="#f4f4f4"/><rect x="-6.9" y="-1.6" width="4.9" height="18.4" fill="#f4f4f4"/><rect x="-1.0" y="-2.6" width="4.9" height="18.4" fill="#f2f2f2"/></g><rect x="-13.4" y="-9.4" width="5.3" height="5.9" fill="#5f5f5f"/><rect x="-13.5" y="5.4" width="4.7" height="4.4" fill="#5f5f5f"/></g><g transform="translate(266.7,544.0) rotate(7.6)"><g filter="url(#sh)"><rect x="-22.2" y="-13.9" width="20.4" height="5.4" fill="#f4f4f4"/><rect x="-22.2" y="1.1" width="20.4" height="5.4" fill="#f4f4f4"/><rect x="-22.2" y="-13.9" width="5.4" height="20.4" fill="#f4f4f4"/><rect x="-7.2" y="-13.9" width="5.4" height="20.4" fill="#f4f4f4"/><rect x="-9.0" y="-14.6" width="20.4" height="5.4" fill="#f4f4f4"/><rect x="-9.0" y="0.4" width="20.4" height="5.4" fill="#f4f4f4"/><rect x="-9.0" y="-14.6" width="5.4" height="20.4" fill="#f4f4f4"/><rect x="6.0" y="-14.6" width="5.4" height="20.4" fill="#f4f4f4"/></g><rect x="-14.5" y="-6.1" width="5.0" height="4.8" fill="#5f5f5f"/><rect x="-2.0" y="-7.7" width="6.3" height="6.6" fill="#5f5f5f"/></g></g>
<polygon points="234,549 255,524 289,531 294,545 287,552 241,563" fill="none" stroke="#9e4d6e" stroke-width="2.2" stroke-linejoin="round"/>
<g clip-path="url(#c61)"><polygon points="101,551 109,542 140,541 148,551 134,582 127,585 104,567" fill="url(#mg)"/><g transform="translate(122.5,556.3) rotate(115.4)"><g filter="url(#sh)"><rect x="-3.5" y="-19.6" width="18.4" height="4.9" fill="#f2f2f2"/><rect x="-18.3" y="0.5" width="18.4" height="4.9" fill="#f4f4f4"/><rect x="-18.3" y="14.0" width="18.4" height="4.9" fill="#f4f4f4"/><rect x="-18.3" y="0.5" width="4.9" height="18.4" fill="#f4f4f4"/><rect x="-4.8" y="0.5" width="4.9" height="18.4" fill="#f4f4f4"/><rect x="-15.9" y="-11.7" width="18.4" height="4.9" fill="#f4f4f4"/><rect x="-15.9" y="1.8" width="18.4" height="4.9" fill="#f4f4f4"/><rect x="-15.9" y="-11.7" width="4.9" height="18.4" fill="#f4f4f4"/><rect x="-2.4" y="-11.7" width="4.9" height="18.4" fill="#f4f4f4"/><rect x="-10.2" y="-26.3" width="4.9" height="18.4" fill="#f2f2f2"/><rect x="10.0" y="-19.6" width="18.4" height="4.9" fill="#f2f2f2"/><rect x="10.0" y="-6.1" width="18.4" height="4.9" fill="#f2f2f2"/><rect x="3.3" y="-12.8" width="4.9" height="18.4" fill="#f2f2f2"/></g><rect x="-11.4" y="6.9" width="4.4" height="5.5" fill="#5f5f5f"/><rect x="-9.6" y="-5.0" width="5.6" height="4.9" fill="#5f5f5f"/></g><g transform="translate(123.3,559.9) rotate(90.0)"><g filter="url(#sh)"><rect x="3.6" y="-8.2" width="20.4" height="5.4" fill="#f4f4f4"/><rect x="3.6" y="6.8" width="20.4" height="5.4" fill="#f4f4f4"/><rect x="3.6" y="-8.2" width="5.4" height="20.4" fill="#f4f4f4"/><rect x="18.6" y="-8.2" width="5.4" height="20.4" fill="#f4f4f4"/><rect x="-11.8" y="-21.3" width="20.4" height="5.4" fill="#f4f4f4"/><rect x="-11.8" y="-6.3" width="20.4" height="5.4" fill="#f4f4f4"/><rect x="-11.8" y="-21.3" width="5.4" height="20.4" fill="#f4f4f4"/><rect x="3.2" y="-21.3" width="5.4" height="20.4" fill="#f4f4f4"/></g><rect x="11.3" y="-0.3" width="4.9" height="4.7" fill="#5f5f5f"/><rect x="-4.8" y="-14.3" width="6.5" height="6.4" fill="#5f5f5f"/></g></g>
<polygon points="101,551 109,542 140,541 148,551 134,582 127,585 104,567" fill="none" stroke="#9e4d6e" stroke-width="2.2" stroke-linejoin="round"/>
<g clip-path="url(#c62)"><polygon points="147,610 155,596 189,588 198,600 187,627 174,632" fill="url(#mg)"/><g transform="translate(176.0,611.3) rotate(108.1)"><g filter="url(#sh)"><rect x="-27.0" y="-7.7" width="18.4" height="4.9" fill="#f2f2f2"/><rect x="-6.8" y="-14.5" width="4.9" height="18.4" fill="#f2f2f2"/><rect x="6.7" y="-14.5" width="4.9" height="18.4" fill="#f2f2f2"/><rect x="-13.5" y="5.8" width="18.4" height="4.9" fill="#f2f2f2"/></g></g><g transform="translate(175.0,608.8) rotate(86.6)"><g filter="url(#sh)"><rect x="-1.8" y="-18.0" width="20.4" height="5.4" fill="#f4f4f4"/><rect x="-1.8" y="-3.0" width="20.4" height="5.4" fill="#f4f4f4"/><rect x="-1.8" y="-18.0" width="5.4" height="20.4" fill="#f4f4f4"/><rect x="13.2" y="-18.0" width="5.4" height="20.4" fill="#f4f4f4"/><rect x="-16.5" y="-9.4" width="20.4" height="5.4" fill="#f2f2f2"/><rect x="-2.7" y="-1.8" width="20.4" height="5.4" fill="#f4f4f4"/><rect x="-2.7" y="13.2" width="20.4" height="5.4" fill="#f4f4f4"/><rect x="-2.7" y="-1.8" width="5.4" height="20.4" fill="#f4f4f4"/><rect x="12.3" y="-1.8" width="5.4" height="20.4" fill="#f4f4f4"/></g><rect x="5.9" y="-11.1" width="4.9" height="6.5" fill="#5f5f5f"/><rect x="4.9" y="5.6" width="5.1" height="5.6" fill="#5f5f5f"/></g></g>
<polygon points="147,610 155,596 189,588 198,600 187,627 174,632" fill="none" stroke="#9e4d6e" stroke-width="2.2" stroke-linejoin="round"/>
<g clip-path="url(#c63)"><polygon points="195,625 211,587 221,586 254,607 254,619 205,634" fill="url(#mg)"/><g transform="translate(221.1,610.2) rotate(72.7)"><g filter="url(#sh)"><rect x="4.5" y="12.3" width="4.9" height="18.4" fill="#f2f2f2"/><rect x="-15.8" y="-8.0" width="18.4" height="4.9" fill="#f2f2f2"/><rect x="4.5" y="-28.2" width="4.9" height="18.4" fill="#f2f2f2"/><rect x="-29.3" y="-8.0" width="18.4" height="4.9" fill="#f2f2f2"/><rect x="-16.1" y="-0.9" width="18.4" height="4.9" fill="#f4f4f4"/><rect x="-16.1" y="12.6" width="18.4" height="4.9" fill="#f4f4f4"/><rect x="-16.1" y="-0.9" width="4.9" height="18.4" fill="#f4f4f4"/><rect x="-2.6" y="-0.9" width="4.9" height="18.4" fill="#f4f4f4"/><rect x="-1.6" y="0.1" width="18.4" height="4.9" fill="#f4f4f4"/><rect x="-1.6" y="13.6" width="18.4" height="4.9" fill="#f4f4f4"/><rect x="-1.6" y="0.1" width="4.9" height="18.4" fill="#f4f4f4"/><rect x="11.9" y="0.1" width="4.9" height="18.4" fill="#f4f4f4"/><rect x="-14.5" y="-29.5" width="18.4" height="4.9" fill="#f4f4f4"/><rect x="-14.5" y="-16.0" width="18.4" height="4.9" fill="#f4f4f4"/><rect x="-14.5" y="-29.5" width="4.9" height="18.4" fill="#f4f4f4"/><rect x="-1.0" y="-29.5" width="4.9" height="18.4" fill="#f4f4f4"/></g><rect x="-9.4" y="6.2" width="4.9" height="4.1" fill="#5f5f5f"/><rect x="5.0" y="7.2" width="5.0" height="4.3" fill="#5f5f5f"/><rect x="-8.4" y="-22.5" width="6.1" height="4.5" fill="#5f5f5f"/></g><g transform="translate(223.3,609.7) rotate(49.9)"><g filter="url(#sh)"><rect x="6.0" y="-28.5" width="20.4" height="5.4" fill="#f4f4f4"/><rect x="6.0" y="-13.5" width="20.4" height="5.4" fill="#f4f4f4"/><rect x="6.0" y="-28.5" width="5.4" height="20.4" fill="#f4f4f4"/><rect x="21.0" y="-28.5" width="5.4" height="20.4" fill="#f4f4f4"/><rect x="-8.9" y="-13.6" width="20.4" height="5.4" fill="#f4f4f4"/><rect x="-8.9" y="1.4" width="20.4" height="5.4" fill="#f4f4f4"/><rect x="-8.9" y="-13.6" width="5.4" height="20.4" fill="#f4f4f4"/><rect x="6.1" y="-13.6" width="5.4" height="20.4" fill="#f4f4f4"/><rect x="-23.2" y="-15.5" width="20.4" height="5.4" fill="#f4f4f4"/><rect x="-23.2" y="-0.5" width="20.4" height="5.4" fill="#f4f4f4"/><rect x="-23.2" y="-15.5" width="5.4" height="20.4" fill="#f4f4f4"/><rect x="-8.2" y="-15.5" width="5.4" height="20.4" fill="#f4f4f4"/><rect x="-7.2" y="1.2" width="20.4" height="5.4" fill="#f4f4f4"/><rect x="-7.2" y="16.2" width="20.4" height="5.4" fill="#f4f4f4"/><rect x="-7.2" y="1.2" width="5.4" height="20.4" fill="#f4f4f4"/><rect x="7.8" y="1.2" width="5.4" height="20.4" fill="#f4f4f4"/></g><rect x="13.2" y="-21.5" width="6.0" height="6.4" fill="#5f5f5f"/><rect x="-2.0" y="-6.4" width="6.6" height="6.1" fill="#5f5f5f"/><rect x="-15.8" y="-8.4" width="5.7" height="6.3" fill="#5f5f5f"/><rect x="0.5" y="9.0" width="5.1" height="4.9" fill="#5f5f5f"/></g></g>
<polygon points="195,625 211,587 221,586 254,607 254,619 205,634" fill="none" stroke="#9e4d6e" stroke-width="2.2" stroke-linejoin="round"/>
<g clip-path="url(#c64)"><polygon points="109,652 122,622 136,618 159,636 158,649 119,664" fill="url(#mg)"/><g transform="translate(136.5,640.8) rotate(63.0)"><g filter="url(#sh)"><rect x="-2.1" y="5.8" width="4.9" height="18.4" fill="#f2f2f2"/><rect x="4.6" y="-0.9" width="18.4" height="4.9" fill="#f2f2f2"/><rect x="-8.9" y="-0.9" width="18.4" height="4.9" fill="#f2f2f2"/></g></g><g transform="translate(133.8,640.2) rotate(40.2)"><g filter="url(#sh)"><rect x="-8.7" y="-9.4" width="20.4" height="5.4" fill="#f4f4f4"/><rect x="-8.7" y="5.6" width="20.4" height="5.4" fill="#f4f4f4"/><rect x="-8.7" y="-9.4" width="5.4" height="20.4" fill="#f4f4f4"/><rect x="6.3" y="-9.4" width="5.4" height="20.4" fill="#f4f4f4"/></g><rect x="-0.8" y="-1.6" width="4.6" height="4.9" fill="#5f5f5f"/></g></g>
<polygon points="109,652 122,622 136,618 159,636 158,649 119,664" fill="none" stroke="#9e4d6e" stroke-width="2.2" stroke-linejoin="round"/>
<g clip-path="url(#c65)"><polygon points="202,653 208,643 248,631 259,641 244,671 232,676" fill="url(#mg)"/><g transform="translate(231.3,652.3) rotate(85.1)"><g filter="url(#sh)"><rect x="-11.3" y="2.9" width="18.4" height="4.9" fill="#f2f2f2"/><rect x="-10.9" y="-18.2" width="18.4" height="4.9" fill="#f4f4f4"/><rect x="-10.9" y="-4.7" width="18.4" height="4.9" fill="#f4f4f4"/><rect x="-10.9" y="-18.2" width="4.9" height="18.4" fill="#f4f4f4"/><rect x="2.6" y="-18.2" width="4.9" height="18.4" fill="#f4f4f4"/><rect x="-11.3" y="-24.1" width="18.4" height="4.9" fill="#f2f2f2"/><rect x="2.2" y="-10.6" width="18.4" height="4.9" fill="#f2f2f2"/><rect x="-11.3" y="16.4" width="18.4" height="4.9" fill="#f2f2f2"/><rect x="9.0" y="-3.9" width="4.9" height="18.4" fill="#f2f2f2"/></g><rect x="-4.6" y="-11.8" width="5.7" height="5.5" fill="#5f5f5f"/></g><g transform="translate(232.2,652.5) rotate(61.2)"><g filter="url(#sh)"><rect x="-14.6" y="-31.2" width="20.4" height="5.4" fill="#f4f4f4"/><rect x="-14.6" y="-16.2" width="20.4" height="5.4" fill="#f4f4f4"/><rect x="-14.6" y="-31.2" width="5.4" height="20.4" fill="#f4f4f4"/><rect x="0.4" y="-31.2" width="5.4" height="20.4" fill="#f4f4f4"/><rect x="-0.5" y="-14.5" width="20.4" height="5.4" fill="#f4f4f4"/><rect x="-0.5" y="0.5" width="20.4" height="5.4" fill="#f4f4f4"/><rect x="-0.5" y="-14.5" width="5.4" height="20.4" fill="#f4f4f4"/><rect x="14.5" y="-14.5" width="5.4" height="20.4" fill="#f4f4f4"/><rect x="-1.3" y="-0.5" width="20.4" height="5.4" fill="#f4f4f4"/><rect x="-1.3" y="14.5" width="20.4" height="5.4" fill="#f4f4f4"/><rect x="-1.3" y="-0.5" width="5.4" height="20.4" fill="#f4f4f4"/><rect x="13.7" y="-0.5" width="5.4" height="20.4" fill="#f4f4f4"/><rect x="-15.2" y="-16.8" width="20.4" height="5.4" fill="#f4f4f4"/><rect x="-15.2" y="-1.8" width="20.4" height="5.4" fill="#f4f4f4"/><rect x="-15.2" y="-16.8" width="5.4" height="20.4" fill="#f4f4f4"/><rect x="-0.2" y="-16.8" width="5.4" height="20.4" fill="#f4f4f4"/></g><rect x="-7.3" y="-23.9" width="5.8" height="5.8" fill="#5f5f5f"/><rect x="6.5" y="-6.6" width="6.5" height="4.7" fill="#5f5f5f"/><rect x="6.5" y="6.5" width="4.7" height="6.3" fill="#5f5f5f"/><rect x="-7.3" y="-9.9" width="4.7" height="6.7" fill="#5f5f5f"/></g></g>
<polygon points="202,653 208,643 248,631 259,641 244,671 232,676" fill="none" stroke="#9e4d6e" stroke-width="2.2" stroke-linejoin="round"/>
<circle cx="87" cy="258" r="55" fill="none" stroke="#dcbb98" stroke-width="1.25"/>
<circle cx="143" cy="267" r="64" fill="none" stroke="#cc848c" stroke-width="1.25"/>
<circle cx="202" cy="309" r="67" fill="none" stroke="#3f86ba" stroke-width="1.65"/>
<circle cx="202" cy="384" r="74" fill="none" stroke="#cc93b6" stroke-width="1.2"/>
<circle cx="192" cy="458" r="75" fill="none" stroke="#dcbb98" stroke-width="1.25"/>
<circle cx="249" cy="505" r="81" fill="none" stroke="#3f86ba" stroke-width="1.65"/>
<circle cx="162" cy="530" r="75" fill="none" stroke="#cc848c" stroke-width="1.25"/>
<circle cx="217" cy="569" r="84" fill="none" stroke="#cc93b6" stroke-width="1.2"/>
<circle cx="192" cy="655" r="80" fill="none" stroke="#dcbb98" stroke-width="1.25"/>
<circle cx="405" cy="117" r="83" fill="none" stroke="#dcbb98" stroke-width="1.25"/>
<circle cx="480" cy="190" r="108" fill="none" stroke="#cc848c" stroke-width="1.25"/>
<circle cx="582.5" cy="252.5" r="129" fill="none" stroke="#3f86ba" stroke-width="1.65"/>
<circle cx="730" cy="274" r="109" fill="none" stroke="#dcbb98" stroke-width="1.25"/>
<circle cx="471" cy="295" r="88" fill="none" stroke="#cc93b6" stroke-width="1.2"/>
<circle cx="510.5" cy="356" r="90" fill="none" stroke="#dcbb98" stroke-width="1.25"/>
<circle cx="583" cy="376.5" r="105.5" fill="none" stroke="#cc93b6" stroke-width="1.2"/>
<circle cx="654.5" cy="400" r="132.5" fill="none" stroke="#cc848c" stroke-width="1.25"/>
<circle cx="777" cy="353" r="95" fill="none" stroke="#3f86ba" stroke-width="1.65"/>
<circle cx="647" cy="518" r="129" fill="none" stroke="#3f86ba" stroke-width="1.65"/>
<circle cx="752" cy="524" r="90" fill="none" stroke="#dcbb98" stroke-width="1.25"/>
<circle cx="850" cy="509" r="78" fill="none" stroke="#cc848c" stroke-width="1.25"/>
<circle cx="926" cy="620" r="95" fill="none" stroke="#3f86ba" stroke-width="1.65"/>
</svg>
<div class="l" style="left:387px;top:106px">网店</div>
<div class="l" style="left:459px;top:185px">文创</div>
<div class="l" style="left:577px;top:240px">餐馆</div>
<div class="l" style="left:780px;top:174px">茶馆</div>
<div class="l" style="left:378px;top:289px">酒吧</div>
<div class="l" style="left:492px;top:347px">民宿</div>
<div class="l" style="left:608px;top:356px">图书室</div>
<div class="l" style="left:818px;top:356px">水疗</div>
<div class="l" style="left:849px;top:454px">手工作坊</div>
<div class="l" style="left:738px;top:526px">民宿</div>
<div class="l" style="left:597px;top:576px">商店</div>
<div class="l" style="left:919px;top:576px">农产品</div>
<div class="l" style="left:195px;top:306px">民宿</div>
<div class="l" style="left:63px;top:437px">商店</div>
<div class="l" style="left:229px;top:505px">民宿</div>
<div class="l" style="left:183px;top:692px">餐馆</div>
</div></body></html>
